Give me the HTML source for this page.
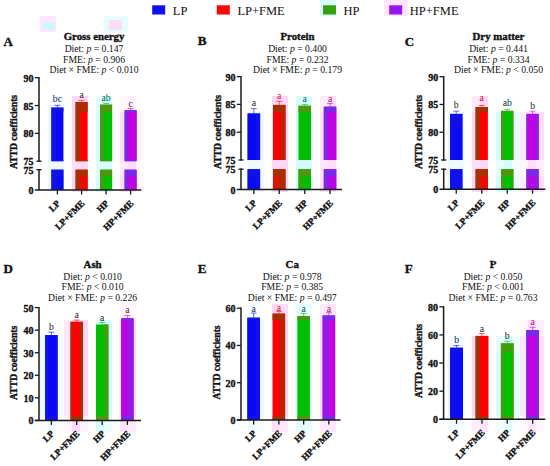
<!DOCTYPE html>
<html><head><meta charset="utf-8"><style>
html,body{margin:0;padding:0;background:#fff;width:550px;height:466px;overflow:hidden;}
svg{display:block;font-family:"Liberation Serif",serif;}
</style></head><body>
<svg width="550" height="466" viewBox="0 0 550 466">
<rect x="0" y="0" width="550" height="466" fill="#fff"/>
<rect x="320.00" y="0.00" width="16.00" height="16.00" fill="#d4fcfc" fill-opacity="0.90"/>
<rect x="384.00" y="0.00" width="24.00" height="16.00" fill="#ffdcfc" fill-opacity="0.75"/>
<rect x="216.00" y="0.00" width="16.00" height="16.00" fill="#ffdcf4" fill-opacity="0.25"/>
<rect x="40.00" y="16.00" width="16.00" height="16.00" fill="#ffe0fa" fill-opacity="0.80"/>
<rect x="43.00" y="22.00" width="11.00" height="8.00" fill="#c8f8fc" fill-opacity="0.90"/>
<rect x="104.00" y="16.00" width="24.00" height="16.00" fill="#dcfcfc" fill-opacity="0.70"/>
<rect x="109.00" y="20.00" width="13.00" height="10.00" fill="#ffd8f6" fill-opacity="0.90"/>
<rect x="48.00" y="96.00" width="8.00" height="16.00" fill="#ecfaff" fill-opacity="0.53"/>
<rect x="48.00" y="112.00" width="8.00" height="16.00" fill="#ecfaff" fill-opacity="1.00"/>
<rect x="48.00" y="128.00" width="8.00" height="16.00" fill="#ecfaff" fill-opacity="1.00"/>
<rect x="48.00" y="144.00" width="8.00" height="16.00" fill="#ecfaff" fill-opacity="1.00"/>
<rect x="48.00" y="160.00" width="8.00" height="16.00" fill="#ecfaff" fill-opacity="0.90"/>
<rect x="56.00" y="96.00" width="8.00" height="16.00" fill="#ecfaff" fill-opacity="0.85"/>
<rect x="56.00" y="112.00" width="8.00" height="16.00" fill="#ecfaff" fill-opacity="1.00"/>
<rect x="56.00" y="128.00" width="8.00" height="16.00" fill="#ecfaff" fill-opacity="1.00"/>
<rect x="56.00" y="144.00" width="8.00" height="16.00" fill="#ecfaff" fill-opacity="1.00"/>
<rect x="56.00" y="160.00" width="8.00" height="16.00" fill="#ecfaff" fill-opacity="1.00"/>
<rect x="48.00" y="176.00" width="8.00" height="16.00" fill="#ecfaff" fill-opacity="1.00"/>
<rect x="56.00" y="176.00" width="8.00" height="16.00" fill="#ecfaff" fill-opacity="1.00"/>
<rect x="72.00" y="96.00" width="8.00" height="16.00" fill="#ffd6f6" fill-opacity="1.00"/>
<rect x="72.00" y="112.00" width="8.00" height="16.00" fill="#ffd6f6" fill-opacity="1.00"/>
<rect x="72.00" y="128.00" width="8.00" height="16.00" fill="#ffd6f6" fill-opacity="1.00"/>
<rect x="72.00" y="144.00" width="8.00" height="16.00" fill="#ffd6f6" fill-opacity="1.00"/>
<rect x="72.00" y="160.00" width="8.00" height="16.00" fill="#ffd6f6" fill-opacity="0.86"/>
<rect x="80.00" y="96.00" width="8.00" height="16.00" fill="#ffd6f6" fill-opacity="1.00"/>
<rect x="80.00" y="112.00" width="8.00" height="16.00" fill="#ffd6f6" fill-opacity="1.00"/>
<rect x="80.00" y="128.00" width="8.00" height="16.00" fill="#ffd6f6" fill-opacity="1.00"/>
<rect x="80.00" y="144.00" width="8.00" height="16.00" fill="#ffd6f6" fill-opacity="1.00"/>
<rect x="80.00" y="160.00" width="8.00" height="16.00" fill="#ffd6f6" fill-opacity="1.00"/>
<rect x="72.00" y="176.00" width="8.00" height="16.00" fill="#ffd6f6" fill-opacity="1.00"/>
<rect x="80.00" y="176.00" width="8.00" height="16.00" fill="#ffd6f6" fill-opacity="1.00"/>
<rect x="96.00" y="96.00" width="8.00" height="16.00" fill="#d4fcfc" fill-opacity="0.74"/>
<rect x="96.00" y="112.00" width="8.00" height="16.00" fill="#d4fcfc" fill-opacity="1.00"/>
<rect x="96.00" y="128.00" width="8.00" height="16.00" fill="#d4fcfc" fill-opacity="1.00"/>
<rect x="96.00" y="144.00" width="8.00" height="16.00" fill="#d4fcfc" fill-opacity="1.00"/>
<rect x="96.00" y="160.00" width="8.00" height="16.00" fill="#d4fcfc" fill-opacity="0.76"/>
<rect x="104.00" y="96.00" width="8.00" height="16.00" fill="#d4fcfc" fill-opacity="1.00"/>
<rect x="104.00" y="160.00" width="8.00" height="16.00" fill="#d4fcfc" fill-opacity="1.00"/>
<rect x="112.00" y="96.00" width="8.00" height="16.00" fill="#d4fcfc" fill-opacity="0.02"/>
<rect x="112.00" y="112.00" width="8.00" height="16.00" fill="#d4fcfc" fill-opacity="0.04"/>
<rect x="112.00" y="128.00" width="8.00" height="16.00" fill="#d4fcfc" fill-opacity="0.04"/>
<rect x="112.00" y="144.00" width="8.00" height="16.00" fill="#d4fcfc" fill-opacity="0.04"/>
<rect x="112.00" y="160.00" width="8.00" height="16.00" fill="#d4fcfc" fill-opacity="0.02"/>
<rect x="96.00" y="176.00" width="8.00" height="16.00" fill="#d4fcfc" fill-opacity="1.00"/>
<rect x="104.00" y="176.00" width="8.00" height="16.00" fill="#d4fcfc" fill-opacity="1.00"/>
<rect x="112.00" y="176.00" width="8.00" height="16.00" fill="#d4fcfc" fill-opacity="0.04"/>
<rect x="120.00" y="96.00" width="8.00" height="16.00" fill="#ffdcfc" fill-opacity="0.16"/>
<rect x="120.00" y="112.00" width="8.00" height="16.00" fill="#ffdcfc" fill-opacity="1.00"/>
<rect x="120.00" y="128.00" width="8.00" height="16.00" fill="#ffdcfc" fill-opacity="1.00"/>
<rect x="120.00" y="144.00" width="8.00" height="16.00" fill="#ffdcfc" fill-opacity="1.00"/>
<rect x="120.00" y="160.00" width="8.00" height="16.00" fill="#ffdcfc" fill-opacity="0.66"/>
<rect x="128.00" y="96.00" width="8.00" height="16.00" fill="#ffdcfc" fill-opacity="0.37"/>
<rect x="128.00" y="160.00" width="8.00" height="16.00" fill="#ffdcfc" fill-opacity="1.00"/>
<rect x="136.00" y="96.00" width="8.00" height="16.00" fill="#ffdcfc" fill-opacity="0.03"/>
<rect x="136.00" y="112.00" width="8.00" height="16.00" fill="#ffdcfc" fill-opacity="0.25"/>
<rect x="136.00" y="128.00" width="8.00" height="16.00" fill="#ffdcfc" fill-opacity="0.25"/>
<rect x="136.00" y="144.00" width="8.00" height="16.00" fill="#ffdcfc" fill-opacity="0.25"/>
<rect x="136.00" y="160.00" width="8.00" height="16.00" fill="#ffdcfc" fill-opacity="0.12"/>
<rect x="120.00" y="176.00" width="8.00" height="16.00" fill="#ffdcfc" fill-opacity="1.00"/>
<rect x="128.00" y="176.00" width="8.00" height="16.00" fill="#ffdcfc" fill-opacity="1.00"/>
<rect x="136.00" y="176.00" width="8.00" height="16.00" fill="#ffdcfc" fill-opacity="0.22"/>
<rect x="240.00" y="112.00" width="8.00" height="16.00" fill="#ecfaff" fill-opacity="0.15"/>
<rect x="240.00" y="128.00" width="8.00" height="16.00" fill="#ecfaff" fill-opacity="0.17"/>
<rect x="240.00" y="144.00" width="8.00" height="16.00" fill="#ecfaff" fill-opacity="0.17"/>
<rect x="248.00" y="112.00" width="8.00" height="16.00" fill="#ecfaff" fill-opacity="1.00"/>
<rect x="256.00" y="112.00" width="8.00" height="16.00" fill="#ecfaff" fill-opacity="1.00"/>
<rect x="256.00" y="128.00" width="8.00" height="16.00" fill="#ecfaff" fill-opacity="1.00"/>
<rect x="256.00" y="144.00" width="8.00" height="16.00" fill="#ecfaff" fill-opacity="1.00"/>
<rect x="240.00" y="160.00" width="8.00" height="16.00" fill="#ecfaff" fill-opacity="0.07"/>
<rect x="240.00" y="176.00" width="8.00" height="16.00" fill="#ecfaff" fill-opacity="0.14"/>
<rect x="248.00" y="160.00" width="8.00" height="16.00" fill="#ecfaff" fill-opacity="1.00"/>
<rect x="248.00" y="176.00" width="8.00" height="16.00" fill="#ecfaff" fill-opacity="1.00"/>
<rect x="256.00" y="160.00" width="8.00" height="16.00" fill="#ecfaff" fill-opacity="0.73"/>
<rect x="256.00" y="176.00" width="8.00" height="16.00" fill="#ecfaff" fill-opacity="1.00"/>
<rect x="272.00" y="96.00" width="8.00" height="16.00" fill="#ffd6f6" fill-opacity="1.00"/>
<rect x="272.00" y="112.00" width="8.00" height="16.00" fill="#ffd6f6" fill-opacity="1.00"/>
<rect x="272.00" y="128.00" width="8.00" height="16.00" fill="#ffd6f6" fill-opacity="1.00"/>
<rect x="272.00" y="144.00" width="8.00" height="16.00" fill="#ffd6f6" fill-opacity="1.00"/>
<rect x="280.00" y="96.00" width="8.00" height="16.00" fill="#ffd6f6" fill-opacity="1.00"/>
<rect x="280.00" y="112.00" width="8.00" height="16.00" fill="#ffd6f6" fill-opacity="1.00"/>
<rect x="280.00" y="128.00" width="8.00" height="16.00" fill="#ffd6f6" fill-opacity="1.00"/>
<rect x="280.00" y="144.00" width="8.00" height="16.00" fill="#ffd6f6" fill-opacity="1.00"/>
<rect x="272.00" y="160.00" width="8.00" height="16.00" fill="#ffd6f6" fill-opacity="1.00"/>
<rect x="272.00" y="176.00" width="8.00" height="16.00" fill="#ffd6f6" fill-opacity="1.00"/>
<rect x="280.00" y="160.00" width="8.00" height="16.00" fill="#ffd6f6" fill-opacity="0.97"/>
<rect x="280.00" y="176.00" width="8.00" height="16.00" fill="#ffd6f6" fill-opacity="1.00"/>
<rect x="296.00" y="96.00" width="8.00" height="16.00" fill="#d4fcfc" fill-opacity="0.89"/>
<rect x="296.00" y="112.00" width="8.00" height="16.00" fill="#d4fcfc" fill-opacity="1.00"/>
<rect x="296.00" y="128.00" width="8.00" height="16.00" fill="#d4fcfc" fill-opacity="1.00"/>
<rect x="296.00" y="144.00" width="8.00" height="16.00" fill="#d4fcfc" fill-opacity="1.00"/>
<rect x="304.00" y="96.00" width="8.00" height="16.00" fill="#d4fcfc" fill-opacity="1.00"/>
<rect x="304.00" y="112.00" width="8.00" height="16.00" fill="#d4fcfc" fill-opacity="1.00"/>
<rect x="304.00" y="128.00" width="8.00" height="16.00" fill="#d4fcfc" fill-opacity="1.00"/>
<rect x="304.00" y="144.00" width="8.00" height="16.00" fill="#d4fcfc" fill-opacity="1.00"/>
<rect x="296.00" y="160.00" width="8.00" height="16.00" fill="#d4fcfc" fill-opacity="0.97"/>
<rect x="296.00" y="176.00" width="8.00" height="16.00" fill="#d4fcfc" fill-opacity="1.00"/>
<rect x="304.00" y="160.00" width="8.00" height="16.00" fill="#d4fcfc" fill-opacity="1.00"/>
<rect x="304.00" y="176.00" width="8.00" height="16.00" fill="#d4fcfc" fill-opacity="1.00"/>
<rect x="320.00" y="96.00" width="8.00" height="16.00" fill="#ffdcfc" fill-opacity="0.58"/>
<rect x="320.00" y="112.00" width="8.00" height="16.00" fill="#ffdcfc" fill-opacity="1.00"/>
<rect x="320.00" y="128.00" width="8.00" height="16.00" fill="#ffdcfc" fill-opacity="1.00"/>
<rect x="320.00" y="144.00" width="8.00" height="16.00" fill="#ffdcfc" fill-opacity="1.00"/>
<rect x="328.00" y="96.00" width="8.00" height="16.00" fill="#ffdcfc" fill-opacity="1.00"/>
<rect x="336.00" y="96.00" width="8.00" height="16.00" fill="#ffdcfc" fill-opacity="0.04"/>
<rect x="336.00" y="112.00" width="8.00" height="16.00" fill="#ffdcfc" fill-opacity="0.13"/>
<rect x="336.00" y="128.00" width="8.00" height="16.00" fill="#ffdcfc" fill-opacity="0.13"/>
<rect x="336.00" y="144.00" width="8.00" height="16.00" fill="#ffdcfc" fill-opacity="0.13"/>
<rect x="320.00" y="160.00" width="8.00" height="16.00" fill="#ffdcfc" fill-opacity="0.74"/>
<rect x="320.00" y="176.00" width="8.00" height="16.00" fill="#ffdcfc" fill-opacity="1.00"/>
<rect x="328.00" y="160.00" width="8.00" height="16.00" fill="#ffdcfc" fill-opacity="1.00"/>
<rect x="328.00" y="176.00" width="8.00" height="16.00" fill="#ffdcfc" fill-opacity="1.00"/>
<rect x="336.00" y="160.00" width="8.00" height="16.00" fill="#ffdcfc" fill-opacity="0.05"/>
<rect x="336.00" y="176.00" width="8.00" height="16.00" fill="#ffdcfc" fill-opacity="0.11"/>
<rect x="448.00" y="112.00" width="8.00" height="16.00" fill="#ecfaff" fill-opacity="1.00"/>
<rect x="448.00" y="128.00" width="8.00" height="16.00" fill="#ecfaff" fill-opacity="1.00"/>
<rect x="448.00" y="144.00" width="8.00" height="16.00" fill="#ecfaff" fill-opacity="1.00"/>
<rect x="456.00" y="112.00" width="8.00" height="16.00" fill="#ecfaff" fill-opacity="1.00"/>
<rect x="456.00" y="128.00" width="8.00" height="16.00" fill="#ecfaff" fill-opacity="1.00"/>
<rect x="456.00" y="144.00" width="8.00" height="16.00" fill="#ecfaff" fill-opacity="1.00"/>
<rect x="448.00" y="160.00" width="8.00" height="16.00" fill="#ecfaff" fill-opacity="1.00"/>
<rect x="448.00" y="176.00" width="8.00" height="16.00" fill="#ecfaff" fill-opacity="1.00"/>
<rect x="456.00" y="160.00" width="8.00" height="16.00" fill="#ecfaff" fill-opacity="1.00"/>
<rect x="456.00" y="176.00" width="8.00" height="16.00" fill="#ecfaff" fill-opacity="1.00"/>
<rect x="472.00" y="96.00" width="8.00" height="16.00" fill="#ffd6f6" fill-opacity="0.57"/>
<rect x="472.00" y="112.00" width="8.00" height="16.00" fill="#ffd6f6" fill-opacity="1.00"/>
<rect x="472.00" y="128.00" width="8.00" height="16.00" fill="#ffd6f6" fill-opacity="1.00"/>
<rect x="472.00" y="144.00" width="8.00" height="16.00" fill="#ffd6f6" fill-opacity="1.00"/>
<rect x="480.00" y="96.00" width="8.00" height="16.00" fill="#ffd6f6" fill-opacity="1.00"/>
<rect x="472.00" y="160.00" width="8.00" height="16.00" fill="#ffd6f6" fill-opacity="0.78"/>
<rect x="472.00" y="176.00" width="8.00" height="16.00" fill="#ffd6f6" fill-opacity="1.00"/>
<rect x="480.00" y="160.00" width="8.00" height="16.00" fill="#ffd6f6" fill-opacity="1.00"/>
<rect x="480.00" y="176.00" width="8.00" height="16.00" fill="#ffd6f6" fill-opacity="1.00"/>
<rect x="496.00" y="96.00" width="8.00" height="16.00" fill="#d4fcfc" fill-opacity="0.09"/>
<rect x="496.00" y="112.00" width="8.00" height="16.00" fill="#d4fcfc" fill-opacity="1.00"/>
<rect x="496.00" y="128.00" width="8.00" height="16.00" fill="#d4fcfc" fill-opacity="1.00"/>
<rect x="496.00" y="144.00" width="8.00" height="16.00" fill="#d4fcfc" fill-opacity="1.00"/>
<rect x="504.00" y="96.00" width="8.00" height="16.00" fill="#d4fcfc" fill-opacity="0.24"/>
<rect x="512.00" y="96.00" width="8.00" height="16.00" fill="#d4fcfc" fill-opacity="0.04"/>
<rect x="512.00" y="112.00" width="8.00" height="16.00" fill="#d4fcfc" fill-opacity="0.58"/>
<rect x="512.00" y="128.00" width="8.00" height="16.00" fill="#d4fcfc" fill-opacity="0.58"/>
<rect x="512.00" y="144.00" width="8.00" height="16.00" fill="#d4fcfc" fill-opacity="0.58"/>
<rect x="496.00" y="160.00" width="8.00" height="16.00" fill="#d4fcfc" fill-opacity="0.51"/>
<rect x="496.00" y="176.00" width="8.00" height="16.00" fill="#d4fcfc" fill-opacity="1.00"/>
<rect x="504.00" y="160.00" width="8.00" height="16.00" fill="#d4fcfc" fill-opacity="1.00"/>
<rect x="504.00" y="176.00" width="8.00" height="16.00" fill="#d4fcfc" fill-opacity="1.00"/>
<rect x="512.00" y="160.00" width="8.00" height="16.00" fill="#d4fcfc" fill-opacity="0.25"/>
<rect x="512.00" y="176.00" width="8.00" height="16.00" fill="#d4fcfc" fill-opacity="0.48"/>
<rect x="520.00" y="112.00" width="8.00" height="16.00" fill="#ffdcfc" fill-opacity="0.59"/>
<rect x="520.00" y="128.00" width="8.00" height="16.00" fill="#ffdcfc" fill-opacity="0.67"/>
<rect x="520.00" y="144.00" width="8.00" height="16.00" fill="#ffdcfc" fill-opacity="0.67"/>
<rect x="528.00" y="112.00" width="8.00" height="16.00" fill="#ffdcfc" fill-opacity="1.00"/>
<rect x="536.00" y="112.00" width="8.00" height="16.00" fill="#ffdcfc" fill-opacity="0.99"/>
<rect x="536.00" y="128.00" width="8.00" height="16.00" fill="#ffdcfc" fill-opacity="1.00"/>
<rect x="536.00" y="144.00" width="8.00" height="16.00" fill="#ffdcfc" fill-opacity="1.00"/>
<rect x="520.00" y="160.00" width="8.00" height="16.00" fill="#ffdcfc" fill-opacity="0.28"/>
<rect x="520.00" y="176.00" width="8.00" height="16.00" fill="#ffdcfc" fill-opacity="0.55"/>
<rect x="528.00" y="160.00" width="8.00" height="16.00" fill="#ffdcfc" fill-opacity="1.00"/>
<rect x="528.00" y="176.00" width="8.00" height="16.00" fill="#ffdcfc" fill-opacity="1.00"/>
<rect x="536.00" y="160.00" width="8.00" height="16.00" fill="#ffdcfc" fill-opacity="0.48"/>
<rect x="536.00" y="176.00" width="8.00" height="16.00" fill="#ffdcfc" fill-opacity="0.94"/>
<rect x="40.00" y="320.00" width="8.00" height="16.00" fill="#ecfaff" fill-opacity="0.06"/>
<rect x="40.00" y="336.00" width="8.00" height="16.00" fill="#ecfaff" fill-opacity="1.00"/>
<rect x="40.00" y="352.00" width="8.00" height="16.00" fill="#ecfaff" fill-opacity="1.00"/>
<rect x="40.00" y="368.00" width="8.00" height="16.00" fill="#ecfaff" fill-opacity="1.00"/>
<rect x="40.00" y="384.00" width="8.00" height="16.00" fill="#ecfaff" fill-opacity="1.00"/>
<rect x="40.00" y="400.00" width="8.00" height="16.00" fill="#ecfaff" fill-opacity="1.00"/>
<rect x="40.00" y="416.00" width="8.00" height="16.00" fill="#ecfaff" fill-opacity="0.32"/>
<rect x="48.00" y="320.00" width="8.00" height="16.00" fill="#ecfaff" fill-opacity="0.18"/>
<rect x="48.00" y="416.00" width="8.00" height="16.00" fill="#ecfaff" fill-opacity="0.92"/>
<rect x="56.00" y="320.00" width="8.00" height="16.00" fill="#ecfaff" fill-opacity="0.04"/>
<rect x="56.00" y="336.00" width="8.00" height="16.00" fill="#ecfaff" fill-opacity="0.67"/>
<rect x="56.00" y="352.00" width="8.00" height="16.00" fill="#ecfaff" fill-opacity="0.67"/>
<rect x="56.00" y="368.00" width="8.00" height="16.00" fill="#ecfaff" fill-opacity="0.67"/>
<rect x="56.00" y="384.00" width="8.00" height="16.00" fill="#ecfaff" fill-opacity="0.67"/>
<rect x="56.00" y="400.00" width="8.00" height="16.00" fill="#ecfaff" fill-opacity="0.67"/>
<rect x="56.00" y="416.00" width="8.00" height="16.00" fill="#ecfaff" fill-opacity="0.18"/>
<rect x="64.00" y="320.00" width="8.00" height="16.00" fill="#ffd6f6" fill-opacity="0.55"/>
<rect x="64.00" y="336.00" width="8.00" height="16.00" fill="#ffd6f6" fill-opacity="0.62"/>
<rect x="64.00" y="352.00" width="8.00" height="16.00" fill="#ffd6f6" fill-opacity="0.62"/>
<rect x="64.00" y="368.00" width="8.00" height="16.00" fill="#ffd6f6" fill-opacity="0.62"/>
<rect x="64.00" y="384.00" width="8.00" height="16.00" fill="#ffd6f6" fill-opacity="0.62"/>
<rect x="64.00" y="400.00" width="8.00" height="16.00" fill="#ffd6f6" fill-opacity="0.62"/>
<rect x="64.00" y="416.00" width="8.00" height="16.00" fill="#ffd6f6" fill-opacity="0.17"/>
<rect x="72.00" y="320.00" width="8.00" height="16.00" fill="#ffd6f6" fill-opacity="1.00"/>
<rect x="72.00" y="416.00" width="8.00" height="16.00" fill="#ffd6f6" fill-opacity="0.92"/>
<rect x="80.00" y="320.00" width="8.00" height="16.00" fill="#ffd6f6" fill-opacity="1.00"/>
<rect x="80.00" y="336.00" width="8.00" height="16.00" fill="#ffd6f6" fill-opacity="1.00"/>
<rect x="80.00" y="352.00" width="8.00" height="16.00" fill="#ffd6f6" fill-opacity="1.00"/>
<rect x="80.00" y="368.00" width="8.00" height="16.00" fill="#ffd6f6" fill-opacity="1.00"/>
<rect x="80.00" y="384.00" width="8.00" height="16.00" fill="#ffd6f6" fill-opacity="1.00"/>
<rect x="80.00" y="400.00" width="8.00" height="16.00" fill="#ffd6f6" fill-opacity="1.00"/>
<rect x="80.00" y="416.00" width="8.00" height="16.00" fill="#ffd6f6" fill-opacity="0.33"/>
<rect x="96.00" y="320.00" width="8.00" height="16.00" fill="#d4fcfc" fill-opacity="1.00"/>
<rect x="96.00" y="416.00" width="8.00" height="16.00" fill="#d4fcfc" fill-opacity="0.92"/>
<rect x="104.00" y="320.00" width="8.00" height="16.00" fill="#d4fcfc" fill-opacity="1.00"/>
<rect x="104.00" y="336.00" width="8.00" height="16.00" fill="#d4fcfc" fill-opacity="1.00"/>
<rect x="104.00" y="352.00" width="8.00" height="16.00" fill="#d4fcfc" fill-opacity="1.00"/>
<rect x="104.00" y="368.00" width="8.00" height="16.00" fill="#d4fcfc" fill-opacity="1.00"/>
<rect x="104.00" y="384.00" width="8.00" height="16.00" fill="#d4fcfc" fill-opacity="1.00"/>
<rect x="104.00" y="400.00" width="8.00" height="16.00" fill="#d4fcfc" fill-opacity="1.00"/>
<rect x="104.00" y="416.00" width="8.00" height="16.00" fill="#d4fcfc" fill-opacity="0.50"/>
<rect x="120.00" y="304.00" width="8.00" height="16.00" fill="#ffdcfc" fill-opacity="0.32"/>
<rect x="120.00" y="320.00" width="8.00" height="16.00" fill="#ffdcfc" fill-opacity="1.00"/>
<rect x="120.00" y="336.00" width="8.00" height="16.00" fill="#ffdcfc" fill-opacity="1.00"/>
<rect x="120.00" y="352.00" width="8.00" height="16.00" fill="#ffdcfc" fill-opacity="1.00"/>
<rect x="120.00" y="368.00" width="8.00" height="16.00" fill="#ffdcfc" fill-opacity="1.00"/>
<rect x="120.00" y="384.00" width="8.00" height="16.00" fill="#ffdcfc" fill-opacity="1.00"/>
<rect x="120.00" y="400.00" width="8.00" height="16.00" fill="#ffdcfc" fill-opacity="1.00"/>
<rect x="120.00" y="416.00" width="8.00" height="16.00" fill="#ffdcfc" fill-opacity="0.78"/>
<rect x="128.00" y="304.00" width="8.00" height="16.00" fill="#ffdcfc" fill-opacity="0.26"/>
<rect x="128.00" y="320.00" width="8.00" height="16.00" fill="#ffdcfc" fill-opacity="1.00"/>
<rect x="128.00" y="336.00" width="8.00" height="16.00" fill="#ffdcfc" fill-opacity="1.00"/>
<rect x="128.00" y="352.00" width="8.00" height="16.00" fill="#ffdcfc" fill-opacity="1.00"/>
<rect x="128.00" y="368.00" width="8.00" height="16.00" fill="#ffdcfc" fill-opacity="1.00"/>
<rect x="128.00" y="384.00" width="8.00" height="16.00" fill="#ffdcfc" fill-opacity="1.00"/>
<rect x="128.00" y="400.00" width="8.00" height="16.00" fill="#ffdcfc" fill-opacity="1.00"/>
<rect x="128.00" y="416.00" width="8.00" height="16.00" fill="#ffdcfc" fill-opacity="0.64"/>
<rect x="240.00" y="304.00" width="8.00" height="16.00" fill="#ecfaff" fill-opacity="0.04"/>
<rect x="240.00" y="320.00" width="8.00" height="16.00" fill="#ecfaff" fill-opacity="0.25"/>
<rect x="240.00" y="336.00" width="8.00" height="16.00" fill="#ecfaff" fill-opacity="0.25"/>
<rect x="240.00" y="352.00" width="8.00" height="16.00" fill="#ecfaff" fill-opacity="0.25"/>
<rect x="240.00" y="368.00" width="8.00" height="16.00" fill="#ecfaff" fill-opacity="0.25"/>
<rect x="240.00" y="384.00" width="8.00" height="16.00" fill="#ecfaff" fill-opacity="0.25"/>
<rect x="240.00" y="400.00" width="8.00" height="16.00" fill="#ecfaff" fill-opacity="0.25"/>
<rect x="240.00" y="416.00" width="8.00" height="16.00" fill="#ecfaff" fill-opacity="0.06"/>
<rect x="248.00" y="304.00" width="8.00" height="16.00" fill="#ecfaff" fill-opacity="0.48"/>
<rect x="248.00" y="416.00" width="8.00" height="16.00" fill="#ecfaff" fill-opacity="0.83"/>
<rect x="256.00" y="304.00" width="8.00" height="16.00" fill="#ecfaff" fill-opacity="0.23"/>
<rect x="256.00" y="320.00" width="8.00" height="16.00" fill="#ecfaff" fill-opacity="1.00"/>
<rect x="256.00" y="336.00" width="8.00" height="16.00" fill="#ecfaff" fill-opacity="1.00"/>
<rect x="256.00" y="352.00" width="8.00" height="16.00" fill="#ecfaff" fill-opacity="1.00"/>
<rect x="256.00" y="368.00" width="8.00" height="16.00" fill="#ecfaff" fill-opacity="1.00"/>
<rect x="256.00" y="384.00" width="8.00" height="16.00" fill="#ecfaff" fill-opacity="1.00"/>
<rect x="256.00" y="400.00" width="8.00" height="16.00" fill="#ecfaff" fill-opacity="1.00"/>
<rect x="256.00" y="416.00" width="8.00" height="16.00" fill="#ecfaff" fill-opacity="0.41"/>
<rect x="272.00" y="304.00" width="8.00" height="16.00" fill="#ffd6f6" fill-opacity="1.00"/>
<rect x="272.00" y="320.00" width="8.00" height="16.00" fill="#ffd6f6" fill-opacity="1.00"/>
<rect x="272.00" y="336.00" width="8.00" height="16.00" fill="#ffd6f6" fill-opacity="1.00"/>
<rect x="272.00" y="352.00" width="8.00" height="16.00" fill="#ffd6f6" fill-opacity="1.00"/>
<rect x="272.00" y="368.00" width="8.00" height="16.00" fill="#ffd6f6" fill-opacity="1.00"/>
<rect x="272.00" y="384.00" width="8.00" height="16.00" fill="#ffd6f6" fill-opacity="1.00"/>
<rect x="272.00" y="400.00" width="8.00" height="16.00" fill="#ffd6f6" fill-opacity="1.00"/>
<rect x="272.00" y="416.00" width="8.00" height="16.00" fill="#ffd6f6" fill-opacity="0.77"/>
<rect x="280.00" y="304.00" width="8.00" height="16.00" fill="#ffd6f6" fill-opacity="0.85"/>
<rect x="280.00" y="320.00" width="8.00" height="16.00" fill="#ffd6f6" fill-opacity="1.00"/>
<rect x="280.00" y="336.00" width="8.00" height="16.00" fill="#ffd6f6" fill-opacity="1.00"/>
<rect x="280.00" y="352.00" width="8.00" height="16.00" fill="#ffd6f6" fill-opacity="1.00"/>
<rect x="280.00" y="368.00" width="8.00" height="16.00" fill="#ffd6f6" fill-opacity="1.00"/>
<rect x="280.00" y="384.00" width="8.00" height="16.00" fill="#ffd6f6" fill-opacity="1.00"/>
<rect x="280.00" y="400.00" width="8.00" height="16.00" fill="#ffd6f6" fill-opacity="1.00"/>
<rect x="280.00" y="416.00" width="8.00" height="16.00" fill="#ffd6f6" fill-opacity="0.53"/>
<rect x="296.00" y="304.00" width="8.00" height="16.00" fill="#d4fcfc" fill-opacity="0.68"/>
<rect x="296.00" y="320.00" width="8.00" height="16.00" fill="#d4fcfc" fill-opacity="1.00"/>
<rect x="296.00" y="336.00" width="8.00" height="16.00" fill="#d4fcfc" fill-opacity="1.00"/>
<rect x="296.00" y="352.00" width="8.00" height="16.00" fill="#d4fcfc" fill-opacity="1.00"/>
<rect x="296.00" y="368.00" width="8.00" height="16.00" fill="#d4fcfc" fill-opacity="1.00"/>
<rect x="296.00" y="384.00" width="8.00" height="16.00" fill="#d4fcfc" fill-opacity="1.00"/>
<rect x="296.00" y="400.00" width="8.00" height="16.00" fill="#d4fcfc" fill-opacity="1.00"/>
<rect x="296.00" y="416.00" width="8.00" height="16.00" fill="#d4fcfc" fill-opacity="0.69"/>
<rect x="304.00" y="304.00" width="8.00" height="16.00" fill="#d4fcfc" fill-opacity="0.61"/>
<rect x="304.00" y="320.00" width="8.00" height="16.00" fill="#d4fcfc" fill-opacity="1.00"/>
<rect x="304.00" y="336.00" width="8.00" height="16.00" fill="#d4fcfc" fill-opacity="1.00"/>
<rect x="304.00" y="352.00" width="8.00" height="16.00" fill="#d4fcfc" fill-opacity="1.00"/>
<rect x="304.00" y="368.00" width="8.00" height="16.00" fill="#d4fcfc" fill-opacity="1.00"/>
<rect x="304.00" y="384.00" width="8.00" height="16.00" fill="#d4fcfc" fill-opacity="1.00"/>
<rect x="304.00" y="400.00" width="8.00" height="16.00" fill="#d4fcfc" fill-opacity="1.00"/>
<rect x="304.00" y="416.00" width="8.00" height="16.00" fill="#d4fcfc" fill-opacity="0.61"/>
<rect x="320.00" y="304.00" width="8.00" height="16.00" fill="#ffdcfc" fill-opacity="0.64"/>
<rect x="320.00" y="320.00" width="8.00" height="16.00" fill="#ffdcfc" fill-opacity="1.00"/>
<rect x="320.00" y="336.00" width="8.00" height="16.00" fill="#ffdcfc" fill-opacity="1.00"/>
<rect x="320.00" y="352.00" width="8.00" height="16.00" fill="#ffdcfc" fill-opacity="1.00"/>
<rect x="320.00" y="368.00" width="8.00" height="16.00" fill="#ffdcfc" fill-opacity="1.00"/>
<rect x="320.00" y="384.00" width="8.00" height="16.00" fill="#ffdcfc" fill-opacity="1.00"/>
<rect x="320.00" y="400.00" width="8.00" height="16.00" fill="#ffdcfc" fill-opacity="1.00"/>
<rect x="320.00" y="416.00" width="8.00" height="16.00" fill="#ffdcfc" fill-opacity="0.56"/>
<rect x="328.00" y="304.00" width="8.00" height="16.00" fill="#ffdcfc" fill-opacity="0.84"/>
<rect x="328.00" y="320.00" width="8.00" height="16.00" fill="#ffdcfc" fill-opacity="1.00"/>
<rect x="328.00" y="336.00" width="8.00" height="16.00" fill="#ffdcfc" fill-opacity="1.00"/>
<rect x="328.00" y="352.00" width="8.00" height="16.00" fill="#ffdcfc" fill-opacity="1.00"/>
<rect x="328.00" y="368.00" width="8.00" height="16.00" fill="#ffdcfc" fill-opacity="1.00"/>
<rect x="328.00" y="384.00" width="8.00" height="16.00" fill="#ffdcfc" fill-opacity="1.00"/>
<rect x="328.00" y="400.00" width="8.00" height="16.00" fill="#ffdcfc" fill-opacity="1.00"/>
<rect x="328.00" y="416.00" width="8.00" height="16.00" fill="#ffdcfc" fill-opacity="0.74"/>
<rect x="448.00" y="336.00" width="8.00" height="16.00" fill="#ecfaff" fill-opacity="0.65"/>
<rect x="448.00" y="352.00" width="8.00" height="16.00" fill="#ecfaff" fill-opacity="1.00"/>
<rect x="448.00" y="368.00" width="8.00" height="16.00" fill="#ecfaff" fill-opacity="1.00"/>
<rect x="448.00" y="384.00" width="8.00" height="16.00" fill="#ecfaff" fill-opacity="1.00"/>
<rect x="448.00" y="400.00" width="8.00" height="16.00" fill="#ecfaff" fill-opacity="1.00"/>
<rect x="448.00" y="416.00" width="8.00" height="16.00" fill="#ecfaff" fill-opacity="0.50"/>
<rect x="456.00" y="336.00" width="8.00" height="16.00" fill="#ecfaff" fill-opacity="0.77"/>
<rect x="456.00" y="352.00" width="8.00" height="16.00" fill="#ecfaff" fill-opacity="1.00"/>
<rect x="456.00" y="368.00" width="8.00" height="16.00" fill="#ecfaff" fill-opacity="1.00"/>
<rect x="456.00" y="384.00" width="8.00" height="16.00" fill="#ecfaff" fill-opacity="1.00"/>
<rect x="456.00" y="400.00" width="8.00" height="16.00" fill="#ecfaff" fill-opacity="1.00"/>
<rect x="456.00" y="416.00" width="8.00" height="16.00" fill="#ecfaff" fill-opacity="0.59"/>
<rect x="472.00" y="320.00" width="8.00" height="16.00" fill="#ffd6f6" fill-opacity="0.01"/>
<rect x="472.00" y="336.00" width="8.00" height="16.00" fill="#ffd6f6" fill-opacity="1.00"/>
<rect x="472.00" y="352.00" width="8.00" height="16.00" fill="#ffd6f6" fill-opacity="1.00"/>
<rect x="472.00" y="368.00" width="8.00" height="16.00" fill="#ffd6f6" fill-opacity="1.00"/>
<rect x="472.00" y="384.00" width="8.00" height="16.00" fill="#ffd6f6" fill-opacity="1.00"/>
<rect x="472.00" y="400.00" width="8.00" height="16.00" fill="#ffd6f6" fill-opacity="1.00"/>
<rect x="472.00" y="416.00" width="8.00" height="16.00" fill="#ffd6f6" fill-opacity="0.38"/>
<rect x="480.00" y="320.00" width="8.00" height="16.00" fill="#ffd6f6" fill-opacity="0.02"/>
<rect x="480.00" y="416.00" width="8.00" height="16.00" fill="#ffd6f6" fill-opacity="0.69"/>
<rect x="488.00" y="320.00" width="8.00" height="16.00" fill="#ffd6f6" fill-opacity="0.00"/>
<rect x="488.00" y="336.00" width="8.00" height="16.00" fill="#ffd6f6" fill-opacity="0.13"/>
<rect x="488.00" y="352.00" width="8.00" height="16.00" fill="#ffd6f6" fill-opacity="0.13"/>
<rect x="488.00" y="368.00" width="8.00" height="16.00" fill="#ffd6f6" fill-opacity="0.13"/>
<rect x="488.00" y="384.00" width="8.00" height="16.00" fill="#ffd6f6" fill-opacity="0.13"/>
<rect x="488.00" y="400.00" width="8.00" height="16.00" fill="#ffd6f6" fill-opacity="0.13"/>
<rect x="488.00" y="416.00" width="8.00" height="16.00" fill="#ffd6f6" fill-opacity="0.03"/>
<rect x="496.00" y="336.00" width="8.00" height="16.00" fill="#d4fcfc" fill-opacity="0.70"/>
<rect x="496.00" y="352.00" width="8.00" height="16.00" fill="#d4fcfc" fill-opacity="1.00"/>
<rect x="496.00" y="368.00" width="8.00" height="16.00" fill="#d4fcfc" fill-opacity="1.00"/>
<rect x="496.00" y="384.00" width="8.00" height="16.00" fill="#d4fcfc" fill-opacity="1.00"/>
<rect x="496.00" y="400.00" width="8.00" height="16.00" fill="#d4fcfc" fill-opacity="1.00"/>
<rect x="496.00" y="416.00" width="8.00" height="16.00" fill="#d4fcfc" fill-opacity="0.27"/>
<rect x="504.00" y="336.00" width="8.00" height="16.00" fill="#d4fcfc" fill-opacity="1.00"/>
<rect x="504.00" y="416.00" width="8.00" height="16.00" fill="#d4fcfc" fill-opacity="0.69"/>
<rect x="512.00" y="336.00" width="8.00" height="16.00" fill="#d4fcfc" fill-opacity="0.36"/>
<rect x="512.00" y="352.00" width="8.00" height="16.00" fill="#d4fcfc" fill-opacity="0.67"/>
<rect x="512.00" y="368.00" width="8.00" height="16.00" fill="#d4fcfc" fill-opacity="0.67"/>
<rect x="512.00" y="384.00" width="8.00" height="16.00" fill="#d4fcfc" fill-opacity="0.67"/>
<rect x="512.00" y="400.00" width="8.00" height="16.00" fill="#d4fcfc" fill-opacity="0.67"/>
<rect x="512.00" y="416.00" width="8.00" height="16.00" fill="#d4fcfc" fill-opacity="0.14"/>
<rect x="520.00" y="320.00" width="8.00" height="16.00" fill="#ffdcfc" fill-opacity="0.27"/>
<rect x="520.00" y="336.00" width="8.00" height="16.00" fill="#ffdcfc" fill-opacity="0.71"/>
<rect x="520.00" y="352.00" width="8.00" height="16.00" fill="#ffdcfc" fill-opacity="0.71"/>
<rect x="520.00" y="368.00" width="8.00" height="16.00" fill="#ffdcfc" fill-opacity="0.71"/>
<rect x="520.00" y="384.00" width="8.00" height="16.00" fill="#ffdcfc" fill-opacity="0.71"/>
<rect x="520.00" y="400.00" width="8.00" height="16.00" fill="#ffdcfc" fill-opacity="0.71"/>
<rect x="520.00" y="416.00" width="8.00" height="16.00" fill="#ffdcfc" fill-opacity="0.15"/>
<rect x="528.00" y="320.00" width="8.00" height="16.00" fill="#ffdcfc" fill-opacity="1.00"/>
<rect x="528.00" y="416.00" width="8.00" height="16.00" fill="#ffdcfc" fill-opacity="0.69"/>
<rect x="536.00" y="320.00" width="8.00" height="16.00" fill="#ffdcfc" fill-opacity="0.47"/>
<rect x="536.00" y="336.00" width="8.00" height="16.00" fill="#ffdcfc" fill-opacity="1.00"/>
<rect x="536.00" y="352.00" width="8.00" height="16.00" fill="#ffdcfc" fill-opacity="1.00"/>
<rect x="536.00" y="368.00" width="8.00" height="16.00" fill="#ffdcfc" fill-opacity="1.00"/>
<rect x="536.00" y="384.00" width="8.00" height="16.00" fill="#ffdcfc" fill-opacity="1.00"/>
<rect x="536.00" y="400.00" width="8.00" height="16.00" fill="#ffdcfc" fill-opacity="1.00"/>
<rect x="536.00" y="416.00" width="8.00" height="16.00" fill="#ffdcfc" fill-opacity="0.26"/>
<rect x="152.20" y="5.30" width="13.00" height="9.20" fill="#1010ea"/>
<rect x="216.80" y="5.30" width="13.00" height="9.20" fill="#f40808"/>
<rect x="323.00" y="5.30" width="13.00" height="9.20" fill="#36a00e"/>
<rect x="389.20" y="5.30" width="13.00" height="9.20" fill="#9418ee"/>
<rect x="51.40" y="107.59" width="12.00" height="53.61" fill="#0808f5"/>
<rect x="51.40" y="169.70" width="12.00" height="20.30" fill="#0808f5"/>
<rect x="75.60" y="102.03" width="12.00" height="59.17" fill="#ff0000"/>
<rect x="75.60" y="169.70" width="12.00" height="20.30" fill="#ff0000"/>
<rect x="100.10" y="104.70" width="12.00" height="56.50" fill="#00be00"/>
<rect x="100.10" y="169.70" width="12.00" height="20.30" fill="#00be00"/>
<rect x="124.60" y="110.21" width="12.00" height="50.99" fill="#c400e4"/>
<rect x="124.60" y="169.70" width="12.00" height="20.30" fill="#c400e4"/>
<rect x="247.60" y="113.52" width="12.50" height="46.48" fill="#0808f5"/>
<rect x="247.60" y="169.20" width="12.50" height="20.40" fill="#0808f5"/>
<rect x="273.00" y="104.90" width="12.50" height="55.10" fill="#ff0000"/>
<rect x="273.00" y="169.20" width="12.50" height="20.40" fill="#ff0000"/>
<rect x="298.50" y="105.79" width="12.50" height="54.21" fill="#00be00"/>
<rect x="298.50" y="169.20" width="12.50" height="20.40" fill="#00be00"/>
<rect x="323.80" y="106.68" width="12.50" height="53.32" fill="#c400e4"/>
<rect x="323.80" y="169.20" width="12.50" height="20.40" fill="#c400e4"/>
<rect x="450.10" y="113.91" width="12.30" height="46.09" fill="#0808f5"/>
<rect x="450.10" y="169.20" width="12.30" height="20.10" fill="#0808f5"/>
<rect x="475.60" y="107.02" width="12.30" height="52.98" fill="#ff0000"/>
<rect x="475.60" y="169.20" width="12.30" height="20.10" fill="#ff0000"/>
<rect x="501.10" y="110.85" width="12.30" height="49.15" fill="#00be00"/>
<rect x="501.10" y="169.20" width="12.30" height="20.10" fill="#00be00"/>
<rect x="526.40" y="113.91" width="12.30" height="46.09" fill="#c400e4"/>
<rect x="526.40" y="169.20" width="12.30" height="20.10" fill="#c400e4"/>
<rect x="45.20" y="335.12" width="12.40" height="85.28" fill="#0808f5"/>
<rect x="70.50" y="321.81" width="12.40" height="98.59" fill="#ff0000"/>
<rect x="96.00" y="324.52" width="12.40" height="95.88" fill="#00be00"/>
<rect x="121.20" y="318.20" width="12.40" height="102.20" fill="#c400e4"/>
<rect x="247.40" y="317.70" width="12.50" height="102.30" fill="#0808f5"/>
<rect x="272.60" y="313.60" width="12.50" height="106.40" fill="#ff0000"/>
<rect x="297.40" y="316.03" width="12.50" height="103.97" fill="#00be00"/>
<rect x="322.60" y="315.47" width="12.50" height="104.53" fill="#c400e4"/>
<rect x="450.20" y="347.72" width="12.70" height="71.58" fill="#0808f5"/>
<rect x="475.60" y="335.91" width="12.70" height="83.39" fill="#ff0000"/>
<rect x="500.90" y="343.36" width="12.70" height="75.94" fill="#00be00"/>
<rect x="526.30" y="330.00" width="12.70" height="89.30" fill="#c400e4"/>
<line x1="57.40" y1="105.31" x2="57.40" y2="107.59" stroke="#0808f5" stroke-width="1.0" stroke-opacity="0.6"/>
<line x1="54.40" y1="105.31" x2="60.40" y2="105.31" stroke="#0808f5" stroke-width="1.0" stroke-opacity="0.6"/>
<line x1="81.60" y1="100.41" x2="81.60" y2="102.03" stroke="#ff0000" stroke-width="1.0" stroke-opacity="0.6"/>
<line x1="78.60" y1="100.41" x2="84.60" y2="100.41" stroke="#ff0000" stroke-width="1.0" stroke-opacity="0.6"/>
<line x1="106.10" y1="103.47" x2="106.10" y2="104.70" stroke="#00be00" stroke-width="1.0" stroke-opacity="0.6"/>
<line x1="103.10" y1="103.47" x2="109.10" y2="103.47" stroke="#00be00" stroke-width="1.0" stroke-opacity="0.6"/>
<line x1="130.60" y1="108.43" x2="130.60" y2="110.21" stroke="#c400e4" stroke-width="1.0" stroke-opacity="0.6"/>
<line x1="127.60" y1="108.43" x2="133.60" y2="108.43" stroke="#c400e4" stroke-width="1.0" stroke-opacity="0.6"/>
<line x1="253.85" y1="108.63" x2="253.85" y2="113.52" stroke="#0808f5" stroke-width="1.0" stroke-opacity="0.6"/>
<line x1="250.85" y1="108.63" x2="256.85" y2="108.63" stroke="#0808f5" stroke-width="1.0" stroke-opacity="0.6"/>
<line x1="279.25" y1="101.29" x2="279.25" y2="104.90" stroke="#ff0000" stroke-width="1.0" stroke-opacity="0.6"/>
<line x1="276.25" y1="101.29" x2="282.25" y2="101.29" stroke="#ff0000" stroke-width="1.0" stroke-opacity="0.6"/>
<line x1="304.75" y1="104.40" x2="304.75" y2="105.79" stroke="#00be00" stroke-width="1.0" stroke-opacity="0.6"/>
<line x1="301.75" y1="104.40" x2="307.75" y2="104.40" stroke="#00be00" stroke-width="1.0" stroke-opacity="0.6"/>
<line x1="330.05" y1="103.57" x2="330.05" y2="106.68" stroke="#c400e4" stroke-width="1.0" stroke-opacity="0.6"/>
<line x1="327.05" y1="103.57" x2="333.05" y2="103.57" stroke="#c400e4" stroke-width="1.0" stroke-opacity="0.6"/>
<line x1="456.25" y1="111.19" x2="456.25" y2="113.91" stroke="#0808f5" stroke-width="1.0" stroke-opacity="0.6"/>
<line x1="453.25" y1="111.19" x2="459.25" y2="111.19" stroke="#0808f5" stroke-width="1.0" stroke-opacity="0.6"/>
<line x1="481.75" y1="105.41" x2="481.75" y2="107.02" stroke="#ff0000" stroke-width="1.0" stroke-opacity="0.6"/>
<line x1="478.75" y1="105.41" x2="484.75" y2="105.41" stroke="#ff0000" stroke-width="1.0" stroke-opacity="0.6"/>
<line x1="507.25" y1="109.35" x2="507.25" y2="110.85" stroke="#00be00" stroke-width="1.0" stroke-opacity="0.6"/>
<line x1="504.25" y1="109.35" x2="510.25" y2="109.35" stroke="#00be00" stroke-width="1.0" stroke-opacity="0.6"/>
<line x1="532.55" y1="111.19" x2="532.55" y2="113.91" stroke="#c400e4" stroke-width="1.0" stroke-opacity="0.6"/>
<line x1="529.55" y1="111.19" x2="535.55" y2="111.19" stroke="#c400e4" stroke-width="1.0" stroke-opacity="0.6"/>
<line x1="51.40" y1="332.19" x2="51.40" y2="335.12" stroke="#0808f5" stroke-width="1.0" stroke-opacity="0.6"/>
<line x1="48.40" y1="332.19" x2="54.40" y2="332.19" stroke="#0808f5" stroke-width="1.0" stroke-opacity="0.6"/>
<line x1="76.70" y1="320.01" x2="76.70" y2="321.81" stroke="#ff0000" stroke-width="1.0" stroke-opacity="0.6"/>
<line x1="73.70" y1="320.01" x2="79.70" y2="320.01" stroke="#ff0000" stroke-width="1.0" stroke-opacity="0.6"/>
<line x1="102.20" y1="322.49" x2="102.20" y2="324.52" stroke="#00be00" stroke-width="1.0" stroke-opacity="0.6"/>
<line x1="99.20" y1="322.49" x2="105.20" y2="322.49" stroke="#00be00" stroke-width="1.0" stroke-opacity="0.6"/>
<line x1="127.40" y1="315.50" x2="127.40" y2="318.20" stroke="#c400e4" stroke-width="1.0" stroke-opacity="0.6"/>
<line x1="124.40" y1="315.50" x2="130.40" y2="315.50" stroke="#c400e4" stroke-width="1.0" stroke-opacity="0.6"/>
<line x1="253.65" y1="313.04" x2="253.65" y2="317.70" stroke="#0808f5" stroke-width="1.0" stroke-opacity="0.6"/>
<line x1="250.65" y1="313.04" x2="256.65" y2="313.04" stroke="#0808f5" stroke-width="1.0" stroke-opacity="0.6"/>
<line x1="278.85" y1="311.37" x2="278.85" y2="313.60" stroke="#ff0000" stroke-width="1.0" stroke-opacity="0.6"/>
<line x1="275.85" y1="311.37" x2="281.85" y2="311.37" stroke="#ff0000" stroke-width="1.0" stroke-opacity="0.6"/>
<line x1="303.65" y1="313.60" x2="303.65" y2="316.03" stroke="#00be00" stroke-width="1.0" stroke-opacity="0.6"/>
<line x1="300.65" y1="313.60" x2="306.65" y2="313.60" stroke="#00be00" stroke-width="1.0" stroke-opacity="0.6"/>
<line x1="328.85" y1="312.67" x2="328.85" y2="315.47" stroke="#c400e4" stroke-width="1.0" stroke-opacity="0.6"/>
<line x1="325.85" y1="312.67" x2="331.85" y2="312.67" stroke="#c400e4" stroke-width="1.0" stroke-opacity="0.6"/>
<line x1="456.55" y1="345.53" x2="456.55" y2="347.72" stroke="#0808f5" stroke-width="1.0" stroke-opacity="0.6"/>
<line x1="453.55" y1="345.53" x2="459.55" y2="345.53" stroke="#0808f5" stroke-width="1.0" stroke-opacity="0.6"/>
<line x1="481.95" y1="333.52" x2="481.95" y2="335.91" stroke="#ff0000" stroke-width="1.0" stroke-opacity="0.6"/>
<line x1="478.95" y1="333.52" x2="484.95" y2="333.52" stroke="#ff0000" stroke-width="1.0" stroke-opacity="0.6"/>
<line x1="507.25" y1="341.25" x2="507.25" y2="343.36" stroke="#00be00" stroke-width="1.0" stroke-opacity="0.6"/>
<line x1="504.25" y1="341.25" x2="510.25" y2="341.25" stroke="#00be00" stroke-width="1.0" stroke-opacity="0.6"/>
<line x1="532.65" y1="327.33" x2="532.65" y2="330.00" stroke="#c400e4" stroke-width="1.0" stroke-opacity="0.6"/>
<line x1="529.65" y1="327.33" x2="535.65" y2="327.33" stroke="#c400e4" stroke-width="1.0" stroke-opacity="0.6"/>
<rect x="51.40" y="107.59" width="4.60" height="4.41" fill="#1212e8"/>
<rect x="51.40" y="112.00" width="4.60" height="16.00" fill="#1111e9"/>
<rect x="51.40" y="128.00" width="4.60" height="16.00" fill="#1111e9"/>
<rect x="51.40" y="144.00" width="4.60" height="16.00" fill="#1111e9"/>
<rect x="51.40" y="160.00" width="4.60" height="1.20" fill="#1212e8"/>
<rect x="51.40" y="169.70" width="4.60" height="6.30" fill="#1212e8"/>
<rect x="56.00" y="107.59" width="7.40" height="4.41" fill="#1212e8"/>
<rect x="56.00" y="160.00" width="7.40" height="1.20" fill="#1212e8"/>
<rect x="56.00" y="169.70" width="7.40" height="6.30" fill="#1212e8"/>
<rect x="51.40" y="176.00" width="4.60" height="14.00" fill="#1212e8"/>
<rect x="56.00" y="176.00" width="7.40" height="14.00" fill="#0b0bf1"/>
<rect x="75.60" y="102.03" width="4.40" height="9.97" fill="#a83000"/>
<rect x="75.60" y="112.00" width="4.40" height="16.00" fill="#a83000"/>
<rect x="75.60" y="128.00" width="4.40" height="16.00" fill="#a83000"/>
<rect x="75.60" y="144.00" width="4.40" height="16.00" fill="#a83000"/>
<rect x="75.60" y="160.00" width="4.40" height="1.20" fill="#a83000"/>
<rect x="75.60" y="169.70" width="4.40" height="6.30" fill="#a83000"/>
<rect x="80.00" y="102.03" width="7.60" height="9.97" fill="#b22b00"/>
<rect x="80.00" y="160.00" width="7.60" height="1.20" fill="#a83000"/>
<rect x="80.00" y="169.70" width="7.60" height="6.30" fill="#a83000"/>
<rect x="75.60" y="176.00" width="4.40" height="14.00" fill="#a83000"/>
<rect x="80.00" y="176.00" width="7.60" height="14.00" fill="#ea0c00"/>
<rect x="100.10" y="104.70" width="3.90" height="7.30" fill="#4c9810"/>
<rect x="100.10" y="112.00" width="3.90" height="16.00" fill="#4c9810"/>
<rect x="100.10" y="128.00" width="3.90" height="16.00" fill="#4c9810"/>
<rect x="100.10" y="144.00" width="3.90" height="16.00" fill="#4c9810"/>
<rect x="100.10" y="160.00" width="3.90" height="1.20" fill="#4c9810"/>
<rect x="100.10" y="169.70" width="3.90" height="6.30" fill="#4c9810"/>
<rect x="104.00" y="104.70" width="8.00" height="7.30" fill="#4c9810"/>
<rect x="104.00" y="160.00" width="8.00" height="1.20" fill="#4c9810"/>
<rect x="104.00" y="169.70" width="8.00" height="6.30" fill="#4c9810"/>
<rect x="112.00" y="104.70" width="0.10" height="7.30" fill="#4c9810"/>
<rect x="112.00" y="112.00" width="0.10" height="16.00" fill="#4c9810"/>
<rect x="112.00" y="128.00" width="0.10" height="16.00" fill="#4c9810"/>
<rect x="112.00" y="144.00" width="0.10" height="16.00" fill="#4c9810"/>
<rect x="112.00" y="160.00" width="0.10" height="1.20" fill="#4c9810"/>
<rect x="112.00" y="169.70" width="0.10" height="6.30" fill="#4c9810"/>
<rect x="100.10" y="176.00" width="3.90" height="14.00" fill="#4c9810"/>
<rect x="112.00" y="176.00" width="0.10" height="14.00" fill="#4c9810"/>
<rect x="124.60" y="110.21" width="3.40" height="1.79" fill="#7a2ae6"/>
<rect x="124.60" y="112.00" width="3.40" height="16.00" fill="#7a2ae6"/>
<rect x="124.60" y="128.00" width="3.40" height="16.00" fill="#7a2ae6"/>
<rect x="124.60" y="144.00" width="3.40" height="16.00" fill="#7a2ae6"/>
<rect x="124.60" y="160.00" width="3.40" height="1.20" fill="#7a2ae6"/>
<rect x="124.60" y="169.70" width="3.40" height="6.30" fill="#7a2ae6"/>
<rect x="128.00" y="110.21" width="8.00" height="1.79" fill="#7a2ae6"/>
<rect x="128.00" y="160.00" width="8.00" height="1.20" fill="#7a2ae6"/>
<rect x="128.00" y="169.70" width="8.00" height="6.30" fill="#7a2ae6"/>
<rect x="136.00" y="110.21" width="0.60" height="1.79" fill="#7a2ae6"/>
<rect x="136.00" y="112.00" width="0.60" height="16.00" fill="#7a2ae6"/>
<rect x="136.00" y="128.00" width="0.60" height="16.00" fill="#7a2ae6"/>
<rect x="136.00" y="144.00" width="0.60" height="16.00" fill="#7a2ae6"/>
<rect x="136.00" y="160.00" width="0.60" height="1.20" fill="#7a2ae6"/>
<rect x="136.00" y="169.70" width="0.60" height="6.30" fill="#7a2ae6"/>
<rect x="124.60" y="176.00" width="3.40" height="14.00" fill="#7a2ae6"/>
<rect x="128.00" y="176.00" width="8.00" height="14.00" fill="#bb05e4"/>
<rect x="136.00" y="176.00" width="0.60" height="14.00" fill="#7a2ae6"/>
<rect x="247.60" y="113.52" width="0.40" height="14.48" fill="#1212e8"/>
<rect x="247.60" y="128.00" width="0.40" height="16.00" fill="#1212e8"/>
<rect x="247.60" y="144.00" width="0.40" height="16.00" fill="#1212e8"/>
<rect x="248.00" y="113.52" width="8.00" height="14.48" fill="#0808f4"/>
<rect x="256.00" y="113.52" width="4.10" height="14.48" fill="#1212e8"/>
<rect x="256.00" y="128.00" width="4.10" height="16.00" fill="#1212e8"/>
<rect x="256.00" y="144.00" width="4.10" height="16.00" fill="#1212e8"/>
<rect x="247.60" y="169.20" width="0.40" height="6.80" fill="#1212e8"/>
<rect x="247.60" y="176.00" width="0.40" height="13.60" fill="#1212e8"/>
<rect x="248.00" y="169.20" width="8.00" height="6.80" fill="#1212e8"/>
<rect x="248.00" y="176.00" width="8.00" height="13.60" fill="#0a0af3"/>
<rect x="256.00" y="169.20" width="4.10" height="6.80" fill="#1212e8"/>
<rect x="256.00" y="176.00" width="4.10" height="13.60" fill="#1212e8"/>
<rect x="273.00" y="104.90" width="7.00" height="7.10" fill="#a83000"/>
<rect x="273.00" y="112.00" width="7.00" height="16.00" fill="#f40600"/>
<rect x="273.00" y="128.00" width="7.00" height="16.00" fill="#f40600"/>
<rect x="273.00" y="144.00" width="7.00" height="16.00" fill="#f40600"/>
<rect x="280.00" y="104.90" width="5.50" height="7.10" fill="#a83000"/>
<rect x="280.00" y="112.00" width="5.50" height="16.00" fill="#c81e00"/>
<rect x="280.00" y="128.00" width="5.50" height="16.00" fill="#c81e00"/>
<rect x="280.00" y="144.00" width="5.50" height="16.00" fill="#c81e00"/>
<rect x="273.00" y="169.20" width="7.00" height="6.80" fill="#a83000"/>
<rect x="273.00" y="176.00" width="7.00" height="13.60" fill="#d61700"/>
<rect x="280.00" y="169.20" width="5.50" height="6.80" fill="#a83000"/>
<rect x="280.00" y="176.00" width="5.50" height="13.60" fill="#b02c00"/>
<rect x="298.50" y="105.79" width="5.50" height="6.21" fill="#4c9810"/>
<rect x="304.00" y="105.79" width="7.00" height="6.21" fill="#4c9810"/>
<rect x="298.50" y="169.20" width="5.50" height="6.80" fill="#4c9810"/>
<rect x="298.50" y="176.00" width="5.50" height="13.60" fill="#28aa09"/>
<rect x="304.00" y="169.20" width="7.00" height="6.80" fill="#4c9810"/>
<rect x="323.80" y="106.68" width="4.20" height="5.32" fill="#7a2ae6"/>
<rect x="323.80" y="112.00" width="4.20" height="16.00" fill="#7a2ae6"/>
<rect x="323.80" y="128.00" width="4.20" height="16.00" fill="#7a2ae6"/>
<rect x="323.80" y="144.00" width="4.20" height="16.00" fill="#7a2ae6"/>
<rect x="328.00" y="106.68" width="8.00" height="5.32" fill="#7a2ae6"/>
<rect x="336.00" y="106.68" width="0.30" height="5.32" fill="#7a2ae6"/>
<rect x="336.00" y="112.00" width="0.30" height="16.00" fill="#7a2ae6"/>
<rect x="336.00" y="128.00" width="0.30" height="16.00" fill="#7a2ae6"/>
<rect x="336.00" y="144.00" width="0.30" height="16.00" fill="#7a2ae6"/>
<rect x="323.80" y="169.20" width="4.20" height="6.80" fill="#7a2ae6"/>
<rect x="323.80" y="176.00" width="4.20" height="13.60" fill="#7a2ae6"/>
<rect x="328.00" y="169.20" width="8.00" height="6.80" fill="#7a2ae6"/>
<rect x="328.00" y="176.00" width="8.00" height="13.60" fill="#b608e4"/>
<rect x="336.00" y="169.20" width="0.30" height="6.80" fill="#7a2ae6"/>
<rect x="336.00" y="176.00" width="0.30" height="13.60" fill="#7a2ae6"/>
<rect x="450.10" y="113.91" width="5.90" height="14.09" fill="#0f0feb"/>
<rect x="450.10" y="128.00" width="5.90" height="16.00" fill="#0d0def"/>
<rect x="450.10" y="144.00" width="5.90" height="16.00" fill="#0d0def"/>
<rect x="456.00" y="113.91" width="6.40" height="14.09" fill="#0e0eed"/>
<rect x="456.00" y="128.00" width="6.40" height="16.00" fill="#0b0bf1"/>
<rect x="456.00" y="144.00" width="6.40" height="16.00" fill="#0b0bf1"/>
<rect x="450.10" y="169.20" width="5.90" height="6.80" fill="#1212e8"/>
<rect x="450.10" y="176.00" width="5.90" height="13.30" fill="#1010ea"/>
<rect x="456.00" y="169.20" width="6.40" height="6.80" fill="#1212e8"/>
<rect x="456.00" y="176.00" width="6.40" height="13.30" fill="#0f0fec"/>
<rect x="475.60" y="107.02" width="4.40" height="4.98" fill="#a83000"/>
<rect x="475.60" y="112.00" width="4.40" height="16.00" fill="#a83000"/>
<rect x="475.60" y="128.00" width="4.40" height="16.00" fill="#a83000"/>
<rect x="475.60" y="144.00" width="4.40" height="16.00" fill="#a83000"/>
<rect x="480.00" y="107.02" width="7.90" height="4.98" fill="#a83000"/>
<rect x="475.60" y="169.20" width="4.40" height="6.80" fill="#a83000"/>
<rect x="475.60" y="176.00" width="4.40" height="13.30" fill="#a83000"/>
<rect x="480.00" y="169.20" width="7.90" height="6.80" fill="#a83000"/>
<rect x="480.00" y="176.00" width="7.90" height="13.30" fill="#e80d00"/>
<rect x="501.10" y="110.85" width="2.90" height="1.15" fill="#4c9810"/>
<rect x="501.10" y="112.00" width="2.90" height="16.00" fill="#4c9810"/>
<rect x="501.10" y="128.00" width="2.90" height="16.00" fill="#4c9810"/>
<rect x="501.10" y="144.00" width="2.90" height="16.00" fill="#4c9810"/>
<rect x="504.00" y="110.85" width="8.00" height="1.15" fill="#4c9810"/>
<rect x="512.00" y="110.85" width="1.40" height="1.15" fill="#4c9810"/>
<rect x="512.00" y="112.00" width="1.40" height="16.00" fill="#4c9810"/>
<rect x="512.00" y="128.00" width="1.40" height="16.00" fill="#4c9810"/>
<rect x="512.00" y="144.00" width="1.40" height="16.00" fill="#4c9810"/>
<rect x="501.10" y="169.20" width="2.90" height="6.80" fill="#4c9810"/>
<rect x="501.10" y="176.00" width="2.90" height="13.30" fill="#4c9810"/>
<rect x="504.00" y="169.20" width="8.00" height="6.80" fill="#4c9810"/>
<rect x="512.00" y="169.20" width="1.40" height="6.80" fill="#4c9810"/>
<rect x="512.00" y="176.00" width="1.40" height="13.30" fill="#4c9810"/>
<rect x="526.40" y="113.91" width="1.60" height="14.09" fill="#7a2ae6"/>
<rect x="526.40" y="128.00" width="1.60" height="16.00" fill="#7a2ae6"/>
<rect x="526.40" y="144.00" width="1.60" height="16.00" fill="#7a2ae6"/>
<rect x="528.00" y="113.91" width="8.00" height="14.09" fill="#bc04e4"/>
<rect x="536.00" y="113.91" width="2.70" height="14.09" fill="#7a2ae6"/>
<rect x="536.00" y="128.00" width="2.70" height="16.00" fill="#7a2ae6"/>
<rect x="536.00" y="144.00" width="2.70" height="16.00" fill="#7a2ae6"/>
<rect x="526.40" y="169.20" width="1.60" height="6.80" fill="#7a2ae6"/>
<rect x="526.40" y="176.00" width="1.60" height="13.30" fill="#7a2ae6"/>
<rect x="528.00" y="169.20" width="8.00" height="6.80" fill="#7a2ae6"/>
<rect x="528.00" y="176.00" width="8.00" height="13.30" fill="#b20ae4"/>
<rect x="536.00" y="169.20" width="2.70" height="6.80" fill="#7a2ae6"/>
<rect x="536.00" y="176.00" width="2.70" height="13.30" fill="#7a2ae6"/>
<rect x="45.20" y="335.12" width="2.80" height="0.88" fill="#1212e8"/>
<rect x="45.20" y="336.00" width="2.80" height="16.00" fill="#1212e8"/>
<rect x="45.20" y="352.00" width="2.80" height="16.00" fill="#1212e8"/>
<rect x="45.20" y="368.00" width="2.80" height="16.00" fill="#1212e8"/>
<rect x="45.20" y="384.00" width="2.80" height="16.00" fill="#1212e8"/>
<rect x="45.20" y="400.00" width="2.80" height="16.00" fill="#1212e8"/>
<rect x="45.20" y="416.00" width="2.80" height="4.40" fill="#1212e8"/>
<rect x="48.00" y="335.12" width="8.00" height="0.88" fill="#1212e8"/>
<rect x="48.00" y="416.00" width="8.00" height="4.40" fill="#1212e8"/>
<rect x="56.00" y="335.12" width="1.60" height="0.88" fill="#1212e8"/>
<rect x="56.00" y="336.00" width="1.60" height="16.00" fill="#1212e8"/>
<rect x="56.00" y="352.00" width="1.60" height="16.00" fill="#1212e8"/>
<rect x="56.00" y="368.00" width="1.60" height="16.00" fill="#1212e8"/>
<rect x="56.00" y="384.00" width="1.60" height="16.00" fill="#1212e8"/>
<rect x="56.00" y="400.00" width="1.60" height="16.00" fill="#1212e8"/>
<rect x="56.00" y="416.00" width="1.60" height="4.40" fill="#1212e8"/>
<rect x="70.50" y="321.81" width="1.50" height="14.19" fill="#a83000"/>
<rect x="70.50" y="336.00" width="1.50" height="16.00" fill="#a83000"/>
<rect x="70.50" y="352.00" width="1.50" height="16.00" fill="#a83000"/>
<rect x="70.50" y="368.00" width="1.50" height="16.00" fill="#a83000"/>
<rect x="70.50" y="384.00" width="1.50" height="16.00" fill="#a83000"/>
<rect x="70.50" y="400.00" width="1.50" height="16.00" fill="#a83000"/>
<rect x="70.50" y="416.00" width="1.50" height="4.40" fill="#a83000"/>
<rect x="72.00" y="321.81" width="8.00" height="14.19" fill="#f70400"/>
<rect x="72.00" y="416.00" width="8.00" height="4.40" fill="#a83000"/>
<rect x="80.00" y="321.81" width="2.90" height="14.19" fill="#a83000"/>
<rect x="80.00" y="336.00" width="2.90" height="16.00" fill="#a83000"/>
<rect x="80.00" y="352.00" width="2.90" height="16.00" fill="#a83000"/>
<rect x="80.00" y="368.00" width="2.90" height="16.00" fill="#a83000"/>
<rect x="80.00" y="384.00" width="2.90" height="16.00" fill="#a83000"/>
<rect x="80.00" y="400.00" width="2.90" height="16.00" fill="#a83000"/>
<rect x="80.00" y="416.00" width="2.90" height="4.40" fill="#a83000"/>
<rect x="96.00" y="416.00" width="8.00" height="4.40" fill="#4c9810"/>
<rect x="104.00" y="324.52" width="4.40" height="11.48" fill="#4c9810"/>
<rect x="104.00" y="336.00" width="4.40" height="16.00" fill="#37a30c"/>
<rect x="104.00" y="352.00" width="4.40" height="16.00" fill="#37a30c"/>
<rect x="104.00" y="368.00" width="4.40" height="16.00" fill="#37a30c"/>
<rect x="104.00" y="384.00" width="4.40" height="16.00" fill="#37a30c"/>
<rect x="104.00" y="400.00" width="4.40" height="16.00" fill="#37a30c"/>
<rect x="104.00" y="416.00" width="4.40" height="4.40" fill="#4c9810"/>
<rect x="121.20" y="318.20" width="6.80" height="1.80" fill="#7a2ae6"/>
<rect x="121.20" y="320.00" width="6.80" height="16.00" fill="#b608e4"/>
<rect x="121.20" y="336.00" width="6.80" height="16.00" fill="#b608e4"/>
<rect x="121.20" y="352.00" width="6.80" height="16.00" fill="#b608e4"/>
<rect x="121.20" y="368.00" width="6.80" height="16.00" fill="#b608e4"/>
<rect x="121.20" y="384.00" width="6.80" height="16.00" fill="#b608e4"/>
<rect x="121.20" y="400.00" width="6.80" height="16.00" fill="#b608e4"/>
<rect x="121.20" y="416.00" width="6.80" height="4.40" fill="#7a2ae6"/>
<rect x="128.00" y="318.20" width="5.60" height="1.80" fill="#7a2ae6"/>
<rect x="128.00" y="320.00" width="5.60" height="16.00" fill="#9819e5"/>
<rect x="128.00" y="336.00" width="5.60" height="16.00" fill="#9819e5"/>
<rect x="128.00" y="352.00" width="5.60" height="16.00" fill="#9819e5"/>
<rect x="128.00" y="368.00" width="5.60" height="16.00" fill="#9819e5"/>
<rect x="128.00" y="384.00" width="5.60" height="16.00" fill="#9819e5"/>
<rect x="128.00" y="400.00" width="5.60" height="16.00" fill="#9819e5"/>
<rect x="128.00" y="416.00" width="5.60" height="4.40" fill="#7a2ae6"/>
<rect x="247.40" y="317.70" width="0.60" height="2.30" fill="#1212e8"/>
<rect x="247.40" y="320.00" width="0.60" height="16.00" fill="#1212e8"/>
<rect x="247.40" y="336.00" width="0.60" height="16.00" fill="#1212e8"/>
<rect x="247.40" y="352.00" width="0.60" height="16.00" fill="#1212e8"/>
<rect x="247.40" y="368.00" width="0.60" height="16.00" fill="#1212e8"/>
<rect x="247.40" y="384.00" width="0.60" height="16.00" fill="#1212e8"/>
<rect x="247.40" y="400.00" width="0.60" height="16.00" fill="#1212e8"/>
<rect x="247.40" y="416.00" width="0.60" height="4.00" fill="#1212e8"/>
<rect x="248.00" y="317.70" width="8.00" height="2.30" fill="#1212e8"/>
<rect x="248.00" y="416.00" width="8.00" height="4.00" fill="#1212e8"/>
<rect x="256.00" y="317.70" width="3.90" height="2.30" fill="#1212e8"/>
<rect x="256.00" y="320.00" width="3.90" height="16.00" fill="#1212e8"/>
<rect x="256.00" y="336.00" width="3.90" height="16.00" fill="#1212e8"/>
<rect x="256.00" y="352.00" width="3.90" height="16.00" fill="#1212e8"/>
<rect x="256.00" y="368.00" width="3.90" height="16.00" fill="#1212e8"/>
<rect x="256.00" y="384.00" width="3.90" height="16.00" fill="#1212e8"/>
<rect x="256.00" y="400.00" width="3.90" height="16.00" fill="#1212e8"/>
<rect x="256.00" y="416.00" width="3.90" height="4.00" fill="#1212e8"/>
<rect x="272.60" y="313.60" width="7.40" height="6.40" fill="#a83000"/>
<rect x="272.60" y="416.00" width="7.40" height="4.00" fill="#a83000"/>
<rect x="280.00" y="313.60" width="5.10" height="6.40" fill="#a83000"/>
<rect x="280.00" y="320.00" width="5.10" height="16.00" fill="#bd2500"/>
<rect x="280.00" y="336.00" width="5.10" height="16.00" fill="#bd2500"/>
<rect x="280.00" y="352.00" width="5.10" height="16.00" fill="#bd2500"/>
<rect x="280.00" y="368.00" width="5.10" height="16.00" fill="#bd2500"/>
<rect x="280.00" y="384.00" width="5.10" height="16.00" fill="#bd2500"/>
<rect x="280.00" y="400.00" width="5.10" height="16.00" fill="#bd2500"/>
<rect x="280.00" y="416.00" width="5.10" height="4.00" fill="#a83000"/>
<rect x="297.40" y="316.03" width="6.60" height="3.97" fill="#4c9810"/>
<rect x="297.40" y="416.00" width="6.60" height="4.00" fill="#4c9810"/>
<rect x="304.00" y="316.03" width="5.90" height="3.97" fill="#4c9810"/>
<rect x="304.00" y="416.00" width="5.90" height="4.00" fill="#4c9810"/>
<rect x="322.60" y="315.47" width="5.40" height="4.53" fill="#7a2ae6"/>
<rect x="322.60" y="320.00" width="5.40" height="16.00" fill="#931ce5"/>
<rect x="322.60" y="336.00" width="5.40" height="16.00" fill="#931ce5"/>
<rect x="322.60" y="352.00" width="5.40" height="16.00" fill="#931ce5"/>
<rect x="322.60" y="368.00" width="5.40" height="16.00" fill="#931ce5"/>
<rect x="322.60" y="384.00" width="5.40" height="16.00" fill="#931ce5"/>
<rect x="322.60" y="400.00" width="5.40" height="16.00" fill="#931ce5"/>
<rect x="322.60" y="416.00" width="5.40" height="4.00" fill="#7a2ae6"/>
<rect x="328.00" y="315.47" width="7.10" height="4.53" fill="#7a2ae6"/>
<rect x="328.00" y="320.00" width="7.10" height="16.00" fill="#be04e4"/>
<rect x="328.00" y="336.00" width="7.10" height="16.00" fill="#be04e4"/>
<rect x="328.00" y="352.00" width="7.10" height="16.00" fill="#be04e4"/>
<rect x="328.00" y="368.00" width="7.10" height="16.00" fill="#be04e4"/>
<rect x="328.00" y="384.00" width="7.10" height="16.00" fill="#be04e4"/>
<rect x="328.00" y="400.00" width="7.10" height="16.00" fill="#be04e4"/>
<rect x="328.00" y="416.00" width="7.10" height="4.00" fill="#7a2ae6"/>
<rect x="450.20" y="347.72" width="5.80" height="4.28" fill="#1212e8"/>
<rect x="450.20" y="352.00" width="5.80" height="16.00" fill="#0d0dee"/>
<rect x="450.20" y="368.00" width="5.80" height="16.00" fill="#0d0dee"/>
<rect x="450.20" y="384.00" width="5.80" height="16.00" fill="#0d0dee"/>
<rect x="450.20" y="400.00" width="5.80" height="16.00" fill="#0d0dee"/>
<rect x="450.20" y="416.00" width="5.80" height="3.30" fill="#1212e8"/>
<rect x="456.00" y="347.72" width="6.90" height="4.28" fill="#1212e8"/>
<rect x="456.00" y="352.00" width="6.90" height="16.00" fill="#0a0af3"/>
<rect x="456.00" y="368.00" width="6.90" height="16.00" fill="#0a0af3"/>
<rect x="456.00" y="384.00" width="6.90" height="16.00" fill="#0a0af3"/>
<rect x="456.00" y="400.00" width="6.90" height="16.00" fill="#0a0af3"/>
<rect x="456.00" y="416.00" width="6.90" height="3.30" fill="#1212e8"/>
<rect x="475.60" y="335.91" width="4.40" height="0.09" fill="#a83000"/>
<rect x="475.60" y="336.00" width="4.40" height="16.00" fill="#a83000"/>
<rect x="475.60" y="352.00" width="4.40" height="16.00" fill="#a83000"/>
<rect x="475.60" y="368.00" width="4.40" height="16.00" fill="#a83000"/>
<rect x="475.60" y="384.00" width="4.40" height="16.00" fill="#a83000"/>
<rect x="475.60" y="400.00" width="4.40" height="16.00" fill="#a83000"/>
<rect x="475.60" y="416.00" width="4.40" height="3.30" fill="#a83000"/>
<rect x="480.00" y="335.91" width="8.00" height="0.09" fill="#a83000"/>
<rect x="480.00" y="416.00" width="8.00" height="3.30" fill="#a83000"/>
<rect x="488.00" y="335.91" width="0.30" height="0.09" fill="#a83000"/>
<rect x="488.00" y="336.00" width="0.30" height="16.00" fill="#a83000"/>
<rect x="488.00" y="352.00" width="0.30" height="16.00" fill="#a83000"/>
<rect x="488.00" y="368.00" width="0.30" height="16.00" fill="#a83000"/>
<rect x="488.00" y="384.00" width="0.30" height="16.00" fill="#a83000"/>
<rect x="488.00" y="400.00" width="0.30" height="16.00" fill="#a83000"/>
<rect x="488.00" y="416.00" width="0.30" height="3.30" fill="#a83000"/>
<rect x="500.90" y="343.36" width="3.10" height="8.64" fill="#4c9810"/>
<rect x="500.90" y="352.00" width="3.10" height="16.00" fill="#4c9810"/>
<rect x="500.90" y="368.00" width="3.10" height="16.00" fill="#4c9810"/>
<rect x="500.90" y="384.00" width="3.10" height="16.00" fill="#4c9810"/>
<rect x="500.90" y="400.00" width="3.10" height="16.00" fill="#4c9810"/>
<rect x="500.90" y="416.00" width="3.10" height="3.30" fill="#4c9810"/>
<rect x="504.00" y="343.36" width="8.00" height="8.64" fill="#3ba00c"/>
<rect x="504.00" y="416.00" width="8.00" height="3.30" fill="#4c9810"/>
<rect x="512.00" y="343.36" width="1.60" height="8.64" fill="#4c9810"/>
<rect x="512.00" y="352.00" width="1.60" height="16.00" fill="#4c9810"/>
<rect x="512.00" y="368.00" width="1.60" height="16.00" fill="#4c9810"/>
<rect x="512.00" y="384.00" width="1.60" height="16.00" fill="#4c9810"/>
<rect x="512.00" y="400.00" width="1.60" height="16.00" fill="#4c9810"/>
<rect x="512.00" y="416.00" width="1.60" height="3.30" fill="#4c9810"/>
<rect x="526.30" y="330.00" width="1.70" height="6.00" fill="#7a2ae6"/>
<rect x="526.30" y="336.00" width="1.70" height="16.00" fill="#7a2ae6"/>
<rect x="526.30" y="352.00" width="1.70" height="16.00" fill="#7a2ae6"/>
<rect x="526.30" y="368.00" width="1.70" height="16.00" fill="#7a2ae6"/>
<rect x="526.30" y="384.00" width="1.70" height="16.00" fill="#7a2ae6"/>
<rect x="526.30" y="400.00" width="1.70" height="16.00" fill="#7a2ae6"/>
<rect x="526.30" y="416.00" width="1.70" height="3.30" fill="#7a2ae6"/>
<rect x="528.00" y="330.00" width="8.00" height="6.00" fill="#7a2ae6"/>
<rect x="528.00" y="416.00" width="8.00" height="3.30" fill="#7a2ae6"/>
<rect x="536.00" y="330.00" width="3.00" height="6.00" fill="#7a2ae6"/>
<rect x="536.00" y="336.00" width="3.00" height="16.00" fill="#7a2ae6"/>
<rect x="536.00" y="352.00" width="3.00" height="16.00" fill="#7a2ae6"/>
<rect x="536.00" y="368.00" width="3.00" height="16.00" fill="#7a2ae6"/>
<rect x="536.00" y="384.00" width="3.00" height="16.00" fill="#7a2ae6"/>
<rect x="536.00" y="400.00" width="3.00" height="16.00" fill="#7a2ae6"/>
<rect x="536.00" y="416.00" width="3.00" height="3.30" fill="#7a2ae6"/>
<text x="172.80" y="14.50" font-size="12.5" font-weight="normal" text-anchor="start" fill="#111" >LP</text>
<text x="237.40" y="14.50" font-size="12.5" font-weight="normal" text-anchor="start" fill="#111" >LP+FME</text>
<text x="343.60" y="14.50" font-size="12.5" font-weight="normal" text-anchor="start" fill="#111" >HP</text>
<text x="409.80" y="14.50" font-size="12.5" font-weight="normal" text-anchor="start" fill="#111" >HP+FME</text>
<text x="3.60" y="45.80" font-size="13" font-weight="bold" text-anchor="start" fill="#111" stroke="#111" stroke-width="0.35" >A</text>
<text x="94.00" y="39.70" font-size="10.8" font-weight="bold" text-anchor="middle" fill="#111" stroke="#111" stroke-width="0.35" >Gross energy</text>
<text x="94.00" y="52.10" font-size="9.7" font-weight="normal" text-anchor="middle" fill="#111" >Diet: <tspan font-style="italic">p</tspan> = 0.147</text>
<text x="94.00" y="62.55" font-size="9.7" font-weight="normal" text-anchor="middle" fill="#111" >FME: <tspan font-style="italic">p</tspan> = 0.906</text>
<text x="94.00" y="73.00" font-size="9.7" font-weight="normal" text-anchor="middle" fill="#111" >Diet × FME: <tspan font-style="italic">p</tspan> &lt; 0.010</text>
<text x="0.00" y="0.00" font-size="9.6" font-weight="bold" text-anchor="middle" fill="#111" stroke="#111" stroke-width="0.35" transform="translate(16.70,132.00) rotate(-90)">ATTD coefficients</text>
<line x1="39.00" y1="77.10" x2="39.00" y2="161.80" stroke="#1a1a1a" stroke-width="1.5"/>
<line x1="34.80" y1="77.70" x2="39.00" y2="77.70" stroke="#1a1a1a" stroke-width="1.3"/>
<text x="33.50" y="81.70" font-size="10" font-weight="bold" text-anchor="end" fill="#111" stroke="#111" stroke-width="0.35" >90</text>
<line x1="34.80" y1="105.53" x2="39.00" y2="105.53" stroke="#1a1a1a" stroke-width="1.3"/>
<text x="33.50" y="109.53" font-size="10" font-weight="bold" text-anchor="end" fill="#111" stroke="#111" stroke-width="0.35" >85</text>
<line x1="34.80" y1="133.37" x2="39.00" y2="133.37" stroke="#1a1a1a" stroke-width="1.3"/>
<text x="33.50" y="137.37" font-size="10" font-weight="bold" text-anchor="end" fill="#111" stroke="#111" stroke-width="0.35" >80</text>
<text x="33.50" y="165.20" font-size="10" font-weight="bold" text-anchor="end" fill="#111" stroke="#111" stroke-width="0.35" >75</text>
<line x1="36.40" y1="161.20" x2="41.60" y2="161.20" stroke="#1a1a1a" stroke-width="1.3"/>
<line x1="39.00" y1="169.10" x2="39.00" y2="190.00" stroke="#1a1a1a" stroke-width="1.5"/>
<line x1="36.40" y1="169.70" x2="41.60" y2="169.70" stroke="#1a1a1a" stroke-width="1.3"/>
<text x="33.50" y="173.70" font-size="10" font-weight="bold" text-anchor="end" fill="#111" stroke="#111" stroke-width="0.35" >75</text>
<text x="33.50" y="194.00" font-size="10" font-weight="bold" text-anchor="end" fill="#111" stroke="#111" stroke-width="0.35" >0</text>
<line x1="34.80" y1="190.00" x2="141.30" y2="190.00" stroke="#1a1a1a" stroke-width="1.5"/>
<line x1="57.40" y1="190.00" x2="57.40" y2="194.50" stroke="#1a1a1a" stroke-width="1.3"/>
<text x="0.00" y="0.00" font-size="9.1" font-weight="bold" text-anchor="end" fill="#111" stroke="#111" stroke-width="0.35" transform="translate(60.80,204.00) rotate(-45)">LP</text>
<line x1="81.60" y1="190.00" x2="81.60" y2="194.50" stroke="#1a1a1a" stroke-width="1.3"/>
<text x="0.00" y="0.00" font-size="9.1" font-weight="bold" text-anchor="end" fill="#111" stroke="#111" stroke-width="0.35" transform="translate(85.00,204.00) rotate(-45)">LP+FME</text>
<line x1="106.10" y1="190.00" x2="106.10" y2="194.50" stroke="#1a1a1a" stroke-width="1.3"/>
<text x="0.00" y="0.00" font-size="9.1" font-weight="bold" text-anchor="end" fill="#111" stroke="#111" stroke-width="0.35" transform="translate(109.50,204.00) rotate(-45)">HP</text>
<line x1="130.60" y1="190.00" x2="130.60" y2="194.50" stroke="#1a1a1a" stroke-width="1.3"/>
<text x="0.00" y="0.00" font-size="9.1" font-weight="bold" text-anchor="end" fill="#111" stroke="#111" stroke-width="0.35" transform="translate(134.00,204.00) rotate(-45)">HP+FME</text>
<text x="197.80" y="45.40" font-size="13" font-weight="bold" text-anchor="start" fill="#111" stroke="#111" stroke-width="0.35" >B</text>
<text x="297.50" y="39.70" font-size="10.8" font-weight="bold" text-anchor="middle" fill="#111" stroke="#111" stroke-width="0.35" >Protein</text>
<text x="297.50" y="52.10" font-size="9.7" font-weight="normal" text-anchor="middle" fill="#111" >Diet: <tspan font-style="italic">p</tspan> = 0.400</text>
<text x="297.50" y="62.55" font-size="9.7" font-weight="normal" text-anchor="middle" fill="#111" >FME: <tspan font-style="italic">p</tspan> = 0.232</text>
<text x="297.50" y="73.00" font-size="9.7" font-weight="normal" text-anchor="middle" fill="#111" >Diet × FME: <tspan font-style="italic">p</tspan> = 0.179</text>
<text x="0.00" y="0.00" font-size="9.6" font-weight="bold" text-anchor="middle" fill="#111" stroke="#111" stroke-width="0.35" transform="translate(221.00,132.00) rotate(-90)">ATTD coefficients</text>
<line x1="241.00" y1="76.00" x2="241.00" y2="160.60" stroke="#1a1a1a" stroke-width="1.5"/>
<line x1="236.80" y1="76.60" x2="241.00" y2="76.60" stroke="#1a1a1a" stroke-width="1.3"/>
<text x="235.50" y="80.60" font-size="10" font-weight="bold" text-anchor="end" fill="#111" stroke="#111" stroke-width="0.35" >90</text>
<line x1="236.80" y1="104.40" x2="241.00" y2="104.40" stroke="#1a1a1a" stroke-width="1.3"/>
<text x="235.50" y="108.40" font-size="10" font-weight="bold" text-anchor="end" fill="#111" stroke="#111" stroke-width="0.35" >85</text>
<line x1="236.80" y1="132.20" x2="241.00" y2="132.20" stroke="#1a1a1a" stroke-width="1.3"/>
<text x="235.50" y="136.20" font-size="10" font-weight="bold" text-anchor="end" fill="#111" stroke="#111" stroke-width="0.35" >80</text>
<text x="235.50" y="164.00" font-size="10" font-weight="bold" text-anchor="end" fill="#111" stroke="#111" stroke-width="0.35" >75</text>
<line x1="238.40" y1="160.00" x2="243.60" y2="160.00" stroke="#1a1a1a" stroke-width="1.3"/>
<line x1="241.00" y1="168.60" x2="241.00" y2="189.60" stroke="#1a1a1a" stroke-width="1.5"/>
<line x1="238.40" y1="169.20" x2="243.60" y2="169.20" stroke="#1a1a1a" stroke-width="1.3"/>
<text x="235.50" y="173.20" font-size="10" font-weight="bold" text-anchor="end" fill="#111" stroke="#111" stroke-width="0.35" >75</text>
<text x="235.50" y="193.60" font-size="10" font-weight="bold" text-anchor="end" fill="#111" stroke="#111" stroke-width="0.35" >0</text>
<line x1="236.80" y1="189.60" x2="342.00" y2="189.60" stroke="#1a1a1a" stroke-width="1.5"/>
<line x1="253.85" y1="189.60" x2="253.85" y2="194.10" stroke="#1a1a1a" stroke-width="1.3"/>
<text x="0.00" y="0.00" font-size="9.1" font-weight="bold" text-anchor="end" fill="#111" stroke="#111" stroke-width="0.35" transform="translate(257.25,203.60) rotate(-45)">LP</text>
<line x1="279.25" y1="189.60" x2="279.25" y2="194.10" stroke="#1a1a1a" stroke-width="1.3"/>
<text x="0.00" y="0.00" font-size="9.1" font-weight="bold" text-anchor="end" fill="#111" stroke="#111" stroke-width="0.35" transform="translate(282.65,203.60) rotate(-45)">LP+FME</text>
<line x1="304.75" y1="189.60" x2="304.75" y2="194.10" stroke="#1a1a1a" stroke-width="1.3"/>
<text x="0.00" y="0.00" font-size="9.1" font-weight="bold" text-anchor="end" fill="#111" stroke="#111" stroke-width="0.35" transform="translate(308.15,203.60) rotate(-45)">HP</text>
<line x1="330.05" y1="189.60" x2="330.05" y2="194.10" stroke="#1a1a1a" stroke-width="1.3"/>
<text x="0.00" y="0.00" font-size="9.1" font-weight="bold" text-anchor="end" fill="#111" stroke="#111" stroke-width="0.35" transform="translate(333.45,203.60) rotate(-45)">HP+FME</text>
<text x="404.80" y="45.60" font-size="13" font-weight="bold" text-anchor="start" fill="#111" stroke="#111" stroke-width="0.35" >C</text>
<text x="498.50" y="39.70" font-size="10.8" font-weight="bold" text-anchor="middle" fill="#111" stroke="#111" stroke-width="0.35" >Dry matter</text>
<text x="498.50" y="52.10" font-size="9.7" font-weight="normal" text-anchor="middle" fill="#111" >Diet: <tspan font-style="italic">p</tspan> = 0.441</text>
<text x="498.50" y="62.55" font-size="9.7" font-weight="normal" text-anchor="middle" fill="#111" >FME: <tspan font-style="italic">p</tspan> = 0.334</text>
<text x="498.50" y="73.00" font-size="9.7" font-weight="normal" text-anchor="middle" fill="#111" >Diet × FME: <tspan font-style="italic">p</tspan> &lt; 0.050</text>
<text x="0.00" y="0.00" font-size="9.6" font-weight="bold" text-anchor="middle" fill="#111" stroke="#111" stroke-width="0.35" transform="translate(422.30,132.00) rotate(-90)">ATTD coefficients</text>
<line x1="443.70" y1="76.10" x2="443.70" y2="160.60" stroke="#1a1a1a" stroke-width="1.5"/>
<line x1="439.50" y1="76.70" x2="443.70" y2="76.70" stroke="#1a1a1a" stroke-width="1.3"/>
<text x="438.20" y="80.70" font-size="10" font-weight="bold" text-anchor="end" fill="#111" stroke="#111" stroke-width="0.35" >90</text>
<line x1="439.50" y1="104.47" x2="443.70" y2="104.47" stroke="#1a1a1a" stroke-width="1.3"/>
<text x="438.20" y="108.47" font-size="10" font-weight="bold" text-anchor="end" fill="#111" stroke="#111" stroke-width="0.35" >85</text>
<line x1="439.50" y1="132.23" x2="443.70" y2="132.23" stroke="#1a1a1a" stroke-width="1.3"/>
<text x="438.20" y="136.23" font-size="10" font-weight="bold" text-anchor="end" fill="#111" stroke="#111" stroke-width="0.35" >80</text>
<text x="438.20" y="164.00" font-size="10" font-weight="bold" text-anchor="end" fill="#111" stroke="#111" stroke-width="0.35" >75</text>
<line x1="441.10" y1="160.00" x2="446.30" y2="160.00" stroke="#1a1a1a" stroke-width="1.3"/>
<line x1="443.70" y1="168.60" x2="443.70" y2="189.30" stroke="#1a1a1a" stroke-width="1.5"/>
<line x1="441.10" y1="169.20" x2="446.30" y2="169.20" stroke="#1a1a1a" stroke-width="1.3"/>
<text x="438.20" y="173.20" font-size="10" font-weight="bold" text-anchor="end" fill="#111" stroke="#111" stroke-width="0.35" >75</text>
<text x="438.20" y="193.30" font-size="10" font-weight="bold" text-anchor="end" fill="#111" stroke="#111" stroke-width="0.35" >0</text>
<line x1="439.50" y1="189.30" x2="545.40" y2="189.30" stroke="#1a1a1a" stroke-width="1.5"/>
<line x1="456.25" y1="189.30" x2="456.25" y2="193.80" stroke="#1a1a1a" stroke-width="1.3"/>
<text x="0.00" y="0.00" font-size="9.1" font-weight="bold" text-anchor="end" fill="#111" stroke="#111" stroke-width="0.35" transform="translate(459.65,203.30) rotate(-45)">LP</text>
<line x1="481.75" y1="189.30" x2="481.75" y2="193.80" stroke="#1a1a1a" stroke-width="1.3"/>
<text x="0.00" y="0.00" font-size="9.1" font-weight="bold" text-anchor="end" fill="#111" stroke="#111" stroke-width="0.35" transform="translate(485.15,203.30) rotate(-45)">LP+FME</text>
<line x1="507.25" y1="189.30" x2="507.25" y2="193.80" stroke="#1a1a1a" stroke-width="1.3"/>
<text x="0.00" y="0.00" font-size="9.1" font-weight="bold" text-anchor="end" fill="#111" stroke="#111" stroke-width="0.35" transform="translate(510.65,203.30) rotate(-45)">HP</text>
<line x1="532.55" y1="189.30" x2="532.55" y2="193.80" stroke="#1a1a1a" stroke-width="1.3"/>
<text x="0.00" y="0.00" font-size="9.1" font-weight="bold" text-anchor="end" fill="#111" stroke="#111" stroke-width="0.35" transform="translate(535.95,203.30) rotate(-45)">HP+FME</text>
<text x="3.60" y="272.70" font-size="13" font-weight="bold" text-anchor="start" fill="#111" stroke="#111" stroke-width="0.35" >D</text>
<text x="92.60" y="268.10" font-size="10.8" font-weight="bold" text-anchor="middle" fill="#111" stroke="#111" stroke-width="0.35" >Ash</text>
<text x="92.60" y="279.80" font-size="9.7" font-weight="normal" text-anchor="middle" fill="#111" >Diet: <tspan font-style="italic">p</tspan> &lt; 0.010</text>
<text x="92.60" y="290.25" font-size="9.7" font-weight="normal" text-anchor="middle" fill="#111" >FME: <tspan font-style="italic">p</tspan> &lt; 0.010</text>
<text x="92.60" y="300.70" font-size="9.7" font-weight="normal" text-anchor="middle" fill="#111" >Diet × FME: <tspan font-style="italic">p</tspan> = 0.226</text>
<text x="0.00" y="0.00" font-size="9.6" font-weight="bold" text-anchor="middle" fill="#111" stroke="#111" stroke-width="0.35" transform="translate(16.90,362.80) rotate(-90)">ATTD coefficients</text>
<line x1="39.00" y1="307.00" x2="39.00" y2="420.40" stroke="#1a1a1a" stroke-width="1.5"/>
<line x1="34.80" y1="420.40" x2="39.00" y2="420.40" stroke="#1a1a1a" stroke-width="1.3"/>
<text x="33.50" y="424.40" font-size="10" font-weight="bold" text-anchor="end" fill="#111" stroke="#111" stroke-width="0.35" >0</text>
<line x1="34.80" y1="397.84" x2="39.00" y2="397.84" stroke="#1a1a1a" stroke-width="1.3"/>
<text x="33.50" y="401.84" font-size="10" font-weight="bold" text-anchor="end" fill="#111" stroke="#111" stroke-width="0.35" >10</text>
<line x1="34.80" y1="375.28" x2="39.00" y2="375.28" stroke="#1a1a1a" stroke-width="1.3"/>
<text x="33.50" y="379.28" font-size="10" font-weight="bold" text-anchor="end" fill="#111" stroke="#111" stroke-width="0.35" >20</text>
<line x1="34.80" y1="352.72" x2="39.00" y2="352.72" stroke="#1a1a1a" stroke-width="1.3"/>
<text x="33.50" y="356.72" font-size="10" font-weight="bold" text-anchor="end" fill="#111" stroke="#111" stroke-width="0.35" >30</text>
<line x1="34.80" y1="330.16" x2="39.00" y2="330.16" stroke="#1a1a1a" stroke-width="1.3"/>
<text x="33.50" y="334.16" font-size="10" font-weight="bold" text-anchor="end" fill="#111" stroke="#111" stroke-width="0.35" >40</text>
<line x1="34.80" y1="307.60" x2="39.00" y2="307.60" stroke="#1a1a1a" stroke-width="1.3"/>
<text x="33.50" y="311.60" font-size="10" font-weight="bold" text-anchor="end" fill="#111" stroke="#111" stroke-width="0.35" >50</text>
<line x1="34.80" y1="420.40" x2="141.00" y2="420.40" stroke="#1a1a1a" stroke-width="1.5"/>
<line x1="51.40" y1="420.40" x2="51.40" y2="424.90" stroke="#1a1a1a" stroke-width="1.3"/>
<text x="0.00" y="0.00" font-size="9.1" font-weight="bold" text-anchor="end" fill="#111" stroke="#111" stroke-width="0.35" transform="translate(54.80,434.40) rotate(-45)">LP</text>
<line x1="76.70" y1="420.40" x2="76.70" y2="424.90" stroke="#1a1a1a" stroke-width="1.3"/>
<text x="0.00" y="0.00" font-size="9.1" font-weight="bold" text-anchor="end" fill="#111" stroke="#111" stroke-width="0.35" transform="translate(80.10,434.40) rotate(-45)">LP+FME</text>
<line x1="102.20" y1="420.40" x2="102.20" y2="424.90" stroke="#1a1a1a" stroke-width="1.3"/>
<text x="0.00" y="0.00" font-size="9.1" font-weight="bold" text-anchor="end" fill="#111" stroke="#111" stroke-width="0.35" transform="translate(105.60,434.40) rotate(-45)">HP</text>
<line x1="127.40" y1="420.40" x2="127.40" y2="424.90" stroke="#1a1a1a" stroke-width="1.3"/>
<text x="0.00" y="0.00" font-size="9.1" font-weight="bold" text-anchor="end" fill="#111" stroke="#111" stroke-width="0.35" transform="translate(130.80,434.40) rotate(-45)">HP+FME</text>
<text x="197.80" y="272.80" font-size="13" font-weight="bold" text-anchor="start" fill="#111" stroke="#111" stroke-width="0.35" >E</text>
<text x="292.20" y="268.10" font-size="10.8" font-weight="bold" text-anchor="middle" fill="#111" stroke="#111" stroke-width="0.35" >Ca</text>
<text x="292.20" y="279.80" font-size="9.7" font-weight="normal" text-anchor="middle" fill="#111" >Diet: <tspan font-style="italic">p</tspan> = 0.978</text>
<text x="292.20" y="290.25" font-size="9.7" font-weight="normal" text-anchor="middle" fill="#111" >FME: <tspan font-style="italic">p</tspan> = 0.385</text>
<text x="292.20" y="300.70" font-size="9.7" font-weight="normal" text-anchor="middle" fill="#111" >Diet × FME: <tspan font-style="italic">p</tspan> = 0.497</text>
<text x="0.00" y="0.00" font-size="9.6" font-weight="bold" text-anchor="middle" fill="#111" stroke="#111" stroke-width="0.35" transform="translate(220.30,362.50) rotate(-90)">ATTD coefficients</text>
<line x1="241.00" y1="307.60" x2="241.00" y2="420.00" stroke="#1a1a1a" stroke-width="1.5"/>
<line x1="236.80" y1="420.00" x2="241.00" y2="420.00" stroke="#1a1a1a" stroke-width="1.3"/>
<text x="235.50" y="424.00" font-size="10" font-weight="bold" text-anchor="end" fill="#111" stroke="#111" stroke-width="0.35" >0</text>
<line x1="236.80" y1="382.73" x2="241.00" y2="382.73" stroke="#1a1a1a" stroke-width="1.3"/>
<text x="235.50" y="386.73" font-size="10" font-weight="bold" text-anchor="end" fill="#111" stroke="#111" stroke-width="0.35" >20</text>
<line x1="236.80" y1="345.47" x2="241.00" y2="345.47" stroke="#1a1a1a" stroke-width="1.3"/>
<text x="235.50" y="349.47" font-size="10" font-weight="bold" text-anchor="end" fill="#111" stroke="#111" stroke-width="0.35" >40</text>
<line x1="236.80" y1="308.20" x2="241.00" y2="308.20" stroke="#1a1a1a" stroke-width="1.3"/>
<text x="235.50" y="312.20" font-size="10" font-weight="bold" text-anchor="end" fill="#111" stroke="#111" stroke-width="0.35" >60</text>
<line x1="236.80" y1="420.00" x2="340.50" y2="420.00" stroke="#1a1a1a" stroke-width="1.5"/>
<line x1="253.65" y1="420.00" x2="253.65" y2="424.50" stroke="#1a1a1a" stroke-width="1.3"/>
<text x="0.00" y="0.00" font-size="9.1" font-weight="bold" text-anchor="end" fill="#111" stroke="#111" stroke-width="0.35" transform="translate(257.05,434.00) rotate(-45)">LP</text>
<line x1="278.85" y1="420.00" x2="278.85" y2="424.50" stroke="#1a1a1a" stroke-width="1.3"/>
<text x="0.00" y="0.00" font-size="9.1" font-weight="bold" text-anchor="end" fill="#111" stroke="#111" stroke-width="0.35" transform="translate(282.25,434.00) rotate(-45)">LP+FME</text>
<line x1="303.65" y1="420.00" x2="303.65" y2="424.50" stroke="#1a1a1a" stroke-width="1.3"/>
<text x="0.00" y="0.00" font-size="9.1" font-weight="bold" text-anchor="end" fill="#111" stroke="#111" stroke-width="0.35" transform="translate(307.05,434.00) rotate(-45)">HP</text>
<line x1="328.85" y1="420.00" x2="328.85" y2="424.50" stroke="#1a1a1a" stroke-width="1.3"/>
<text x="0.00" y="0.00" font-size="9.1" font-weight="bold" text-anchor="end" fill="#111" stroke="#111" stroke-width="0.35" transform="translate(332.25,434.00) rotate(-45)">HP+FME</text>
<text x="404.80" y="272.70" font-size="13" font-weight="bold" text-anchor="start" fill="#111" stroke="#111" stroke-width="0.35" >F</text>
<text x="493.00" y="268.10" font-size="10.8" font-weight="bold" text-anchor="middle" fill="#111" stroke="#111" stroke-width="0.35" >P</text>
<text x="493.00" y="279.80" font-size="9.7" font-weight="normal" text-anchor="middle" fill="#111" >Diet: <tspan font-style="italic">p</tspan> &lt; 0.050</text>
<text x="493.00" y="290.25" font-size="9.7" font-weight="normal" text-anchor="middle" fill="#111" >FME: <tspan font-style="italic">p</tspan> &lt; 0.001</text>
<text x="493.00" y="300.70" font-size="9.7" font-weight="normal" text-anchor="middle" fill="#111" >Diet × FME: <tspan font-style="italic">p</tspan> = 0.763</text>
<text x="0.00" y="0.00" font-size="9.6" font-weight="bold" text-anchor="middle" fill="#111" stroke="#111" stroke-width="0.35" transform="translate(422.10,361.00) rotate(-90)">ATTD coefficients</text>
<line x1="443.60" y1="306.20" x2="443.60" y2="419.30" stroke="#1a1a1a" stroke-width="1.5"/>
<line x1="439.40" y1="419.30" x2="443.60" y2="419.30" stroke="#1a1a1a" stroke-width="1.3"/>
<text x="438.10" y="423.30" font-size="10" font-weight="bold" text-anchor="end" fill="#111" stroke="#111" stroke-width="0.35" >0</text>
<line x1="439.40" y1="391.18" x2="443.60" y2="391.18" stroke="#1a1a1a" stroke-width="1.3"/>
<text x="438.10" y="395.18" font-size="10" font-weight="bold" text-anchor="end" fill="#111" stroke="#111" stroke-width="0.35" >20</text>
<line x1="439.40" y1="363.05" x2="443.60" y2="363.05" stroke="#1a1a1a" stroke-width="1.3"/>
<text x="438.10" y="367.05" font-size="10" font-weight="bold" text-anchor="end" fill="#111" stroke="#111" stroke-width="0.35" >40</text>
<line x1="439.40" y1="334.93" x2="443.60" y2="334.93" stroke="#1a1a1a" stroke-width="1.3"/>
<text x="438.10" y="338.93" font-size="10" font-weight="bold" text-anchor="end" fill="#111" stroke="#111" stroke-width="0.35" >60</text>
<line x1="439.40" y1="306.80" x2="443.60" y2="306.80" stroke="#1a1a1a" stroke-width="1.3"/>
<text x="438.10" y="310.80" font-size="10" font-weight="bold" text-anchor="end" fill="#111" stroke="#111" stroke-width="0.35" >80</text>
<line x1="439.40" y1="419.30" x2="545.30" y2="419.30" stroke="#1a1a1a" stroke-width="1.5"/>
<line x1="456.55" y1="419.30" x2="456.55" y2="423.80" stroke="#1a1a1a" stroke-width="1.3"/>
<text x="0.00" y="0.00" font-size="9.1" font-weight="bold" text-anchor="end" fill="#111" stroke="#111" stroke-width="0.35" transform="translate(459.95,433.30) rotate(-45)">LP</text>
<line x1="481.95" y1="419.30" x2="481.95" y2="423.80" stroke="#1a1a1a" stroke-width="1.3"/>
<text x="0.00" y="0.00" font-size="9.1" font-weight="bold" text-anchor="end" fill="#111" stroke="#111" stroke-width="0.35" transform="translate(485.35,433.30) rotate(-45)">LP+FME</text>
<line x1="507.25" y1="419.30" x2="507.25" y2="423.80" stroke="#1a1a1a" stroke-width="1.3"/>
<text x="0.00" y="0.00" font-size="9.1" font-weight="bold" text-anchor="end" fill="#111" stroke="#111" stroke-width="0.35" transform="translate(510.65,433.30) rotate(-45)">HP</text>
<line x1="532.65" y1="419.30" x2="532.65" y2="423.80" stroke="#1a1a1a" stroke-width="1.3"/>
<text x="0.00" y="0.00" font-size="9.1" font-weight="bold" text-anchor="end" fill="#111" stroke="#111" stroke-width="0.35" transform="translate(536.05,433.30) rotate(-45)">HP+FME</text>
<text x="57.40" y="101.60" font-size="9.7" font-weight="normal" text-anchor="middle" fill="#1f1f49" >bc</text>
<text x="81.60" y="98.00" font-size="9.7" font-weight="normal" text-anchor="middle" fill="#222222" >a</text>
<text x="106.10" y="100.70" font-size="9.7" font-weight="normal" text-anchor="middle" fill="#006450" >ab</text>
<text x="130.60" y="107.10" font-size="9.7" font-weight="normal" text-anchor="middle" fill="#551d37" >c</text>
<text x="253.85" y="105.70" font-size="9.7" font-weight="normal" text-anchor="middle" fill="#222222" >a</text>
<text x="279.25" y="99.40" font-size="9.7" font-weight="normal" text-anchor="middle" fill="#c81030" >a</text>
<text x="304.75" y="102.10" font-size="9.7" font-weight="normal" text-anchor="middle" fill="#006450" >a</text>
<text x="330.05" y="101.70" font-size="9.7" font-weight="normal" text-anchor="middle" fill="#aa145a" >a</text>
<text x="456.25" y="107.50" font-size="9.7" font-weight="normal" text-anchor="middle" fill="#222222" >b</text>
<text x="481.75" y="101.20" font-size="9.7" font-weight="normal" text-anchor="middle" fill="#c81030" >a</text>
<text x="507.25" y="105.70" font-size="9.7" font-weight="normal" text-anchor="middle" fill="#1a322d" >ab</text>
<text x="532.55" y="109.00" font-size="9.7" font-weight="normal" text-anchor="middle" fill="#222222" >b</text>
<text x="51.40" y="330.40" font-size="9.7" font-weight="normal" text-anchor="middle" fill="#21212a" >b</text>
<text x="76.70" y="318.20" font-size="9.7" font-weight="normal" text-anchor="middle" fill="#222222" >a</text>
<text x="102.20" y="320.50" font-size="9.7" font-weight="normal" text-anchor="middle" fill="#222222" >a</text>
<text x="127.40" y="312.80" font-size="9.7" font-weight="normal" text-anchor="middle" fill="#4d1e34" >a</text>
<text x="253.65" y="312.00" font-size="9.7" font-weight="normal" text-anchor="middle" fill="#202038" >a</text>
<text x="278.85" y="311.30" font-size="9.7" font-weight="normal" text-anchor="middle" fill="#c81030" >a</text>
<text x="303.65" y="312.00" font-size="9.7" font-weight="normal" text-anchor="middle" fill="#0b4f41" >a</text>
<text x="328.85" y="311.80" font-size="9.7" font-weight="normal" text-anchor="middle" fill="#941651" >a</text>
<text x="456.55" y="343.20" font-size="9.7" font-weight="normal" text-anchor="middle" fill="#1f1f45" >b</text>
<text x="481.95" y="332.30" font-size="9.7" font-weight="normal" text-anchor="middle" fill="#252222" >a</text>
<text x="507.25" y="338.60" font-size="9.7" font-weight="normal" text-anchor="middle" fill="#222222" >b</text>
<text x="532.65" y="325.00" font-size="9.7" font-weight="normal" text-anchor="middle" fill="#aa145a" >a</text>
</svg></body></html>
